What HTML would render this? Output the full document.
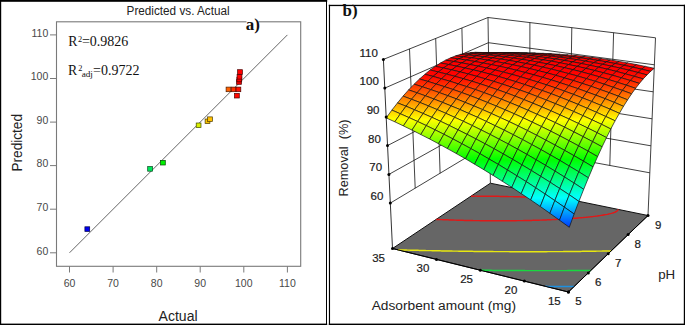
<!DOCTYPE html>
<html><head><meta charset="utf-8">
<style>
html,body{margin:0;padding:0;background:#fff;}
body{width:685px;height:325px;overflow:hidden;position:relative;}
svg{position:absolute;left:0;top:0;}
.tk{font-family:"Liberation Sans",sans-serif;font-size:10.5px;fill:#484848;}
.rt{font-family:"Liberation Sans",sans-serif;font-size:11.5px;fill:#1a1a1a;stroke:#1a1a1a;stroke-width:0.2px;}
.lab{font-family:"Liberation Sans",sans-serif;fill:#222;}
.ser{font-family:"Liberation Serif",serif;fill:#111;}
</style></head><body>
<svg width="685" height="325" viewBox="0 0 685 325">
<rect x="0" y="0" width="685" height="325" fill="#fff"/>
<!-- left panel frame -->
<rect x="0" y="0" width="327.2" height="1.8" fill="#000"/><rect x="0" y="0" width="1.2" height="325" fill="#000"/><rect x="326" y="0" width="1" height="325" fill="#000"/><rect x="0" y="323.6" width="327.2" height="1.4" fill="#000"/>
<text x="126.6" y="14.5" class="lab" font-size="12.5" textLength="103" lengthAdjust="spacingAndGlyphs">Predicted vs. Actual</text>
<rect x="56.5" y="21.8" width="244.2" height="244.5" fill="none" stroke="#7a7a7a" stroke-width="1.1"/>
<line x1="69.5" y1="266.3" x2="69.5" y2="272.5" stroke="#7a7a7a" stroke-width="1"/>
<text x="69.5" y="286.6" text-anchor="middle" class="tk">60</text>
<line x1="50" y1="252.8" x2="56.5" y2="252.8" stroke="#7a7a7a" stroke-width="1"/>
<text x="48.3" y="254.6" text-anchor="end" class="tk">60</text>
<line x1="113.1" y1="266.3" x2="113.1" y2="272.5" stroke="#7a7a7a" stroke-width="1"/>
<text x="113.1" y="286.6" text-anchor="middle" class="tk">70</text>
<line x1="50" y1="209.2" x2="56.5" y2="209.2" stroke="#7a7a7a" stroke-width="1"/>
<text x="48.3" y="211" text-anchor="end" class="tk">70</text>
<line x1="156.7" y1="266.3" x2="156.7" y2="272.5" stroke="#7a7a7a" stroke-width="1"/>
<text x="156.7" y="286.6" text-anchor="middle" class="tk">80</text>
<line x1="50" y1="165.6" x2="56.5" y2="165.6" stroke="#7a7a7a" stroke-width="1"/>
<text x="48.3" y="167.4" text-anchor="end" class="tk">80</text>
<line x1="200.2" y1="266.3" x2="200.2" y2="272.5" stroke="#7a7a7a" stroke-width="1"/>
<text x="200.2" y="286.6" text-anchor="middle" class="tk">90</text>
<line x1="50" y1="122.1" x2="56.5" y2="122.1" stroke="#7a7a7a" stroke-width="1"/>
<text x="48.3" y="123.9" text-anchor="end" class="tk">90</text>
<line x1="243.8" y1="266.3" x2="243.8" y2="272.5" stroke="#7a7a7a" stroke-width="1"/>
<text x="243.8" y="286.6" text-anchor="middle" class="tk">100</text>
<line x1="50" y1="78.5" x2="56.5" y2="78.5" stroke="#7a7a7a" stroke-width="1"/>
<text x="48.3" y="80.3" text-anchor="end" class="tk">100</text>
<line x1="287.4" y1="266.3" x2="287.4" y2="272.5" stroke="#7a7a7a" stroke-width="1"/>
<text x="287.4" y="286.6" text-anchor="middle" class="tk">110</text>
<line x1="50" y1="34.9" x2="56.5" y2="34.9" stroke="#7a7a7a" stroke-width="1"/>
<text x="48.3" y="36.7" text-anchor="end" class="tk">110</text>
<line x1="69.5" y1="252.8" x2="287.4" y2="34.9" stroke="#555" stroke-width="0.9"/>
<rect x="84.9" y="226.8" width="4.8" height="4.6" fill="#0000f0" stroke="#000048" stroke-width="0.7"/>
<rect x="147.7" y="166.6" width="4.8" height="4.6" fill="#00e85a" stroke="#00451b" stroke-width="0.7"/>
<rect x="160.5" y="160.4" width="4.8" height="4.6" fill="#00f000" stroke="#004800" stroke-width="0.7"/>
<rect x="196.2" y="123" width="4.8" height="4.6" fill="#d8f000" stroke="#404800" stroke-width="0.7"/>
<rect x="205.1" y="119" width="4.8" height="4.6" fill="#f4c000" stroke="#493900" stroke-width="0.7"/>
<rect x="207.6" y="116.9" width="4.8" height="4.6" fill="#ffc000" stroke="#4c3900" stroke-width="0.7"/>
<rect x="226.1" y="87.1" width="4.8" height="4.6" fill="#ff6000" stroke="#4c1c00" stroke-width="0.7"/>
<rect x="231.2" y="87.1" width="4.8" height="4.6" fill="#ff3000" stroke="#4c0e00" stroke-width="0.7"/>
<rect x="236" y="87.1" width="4.8" height="4.6" fill="#ff1000" stroke="#4c0400" stroke-width="0.7"/>
<rect x="234.5" y="93.4" width="4.8" height="4.6" fill="#ff0800" stroke="#4c0200" stroke-width="0.7"/>
<rect x="236.6" y="79.7" width="4.8" height="4.6" fill="#ee0000" stroke="#470000" stroke-width="0.7"/>
<rect x="236.9" y="77.2" width="4.8" height="4.6" fill="#ff0000" stroke="#4c0000" stroke-width="0.7"/>
<rect x="237.1" y="74.5" width="4.8" height="4.6" fill="#ff0000" stroke="#4c0000" stroke-width="0.7"/>
<rect x="237.6" y="69.7" width="4.8" height="4.6" fill="#ff0000" stroke="#4c0000" stroke-width="0.7"/>
<text transform="translate(21.5,171.5) rotate(-90)" class="lab" font-size="13.8" textLength="57.5" lengthAdjust="spacingAndGlyphs">Predicted</text>
<text x="158.6" y="321" class="lab" font-size="14" textLength="39" lengthAdjust="spacingAndGlyphs">Actual</text>
<text x="68.2" y="45.8" class="ser" font-size="13.8">R</text><text x="77.9" y="41.9" class="ser" font-size="8.3">2</text><text x="81.9" y="45.8" class="ser" font-size="14">=0.9826</text>
<text x="68.1" y="75.4" class="ser" font-size="13.8">R</text><text x="78.3" y="71.1" class="ser" font-size="8.3">2</text><text x="81.7" y="76.6" class="ser" font-size="9.2">adj</text><text x="93" y="75.4" class="ser" font-size="14">=0.9722</text>
<rect x="246.5" y="18" width="12" height="14" fill="#fff"/>
<text x="245.8" y="29.6" class="ser" font-size="17" font-weight="bold">a)</text>
<!-- right panel frame -->
<rect x="328.8" y="4.8" width="356.2" height="1.3" fill="#000"/><rect x="328.9" y="4.8" width="1.15" height="320.2" fill="#000"/><rect x="683.8" y="4.8" width="1.2" height="320.2" fill="#000"/><rect x="328.8" y="323.6" width="356.2" height="1.4" fill="#000"/>
<line x1="390.3" y1="203.1" x2="489.8" y2="143.4" stroke="#111" stroke-width="0.8"/>
<line x1="489.8" y1="143.4" x2="649.8" y2="172.8" stroke="#111" stroke-width="0.8"/>
<line x1="388.9" y1="174.4" x2="489.5" y2="118.2" stroke="#111" stroke-width="0.8"/>
<line x1="489.5" y1="118.2" x2="650.9" y2="145.8" stroke="#111" stroke-width="0.8"/>
<line x1="387.5" y1="145.6" x2="489.1" y2="93" stroke="#111" stroke-width="0.8"/>
<line x1="489.1" y1="93" x2="652.1" y2="118.8" stroke="#111" stroke-width="0.8"/>
<line x1="386.2" y1="116.9" x2="488.7" y2="67.9" stroke="#111" stroke-width="0.8"/>
<line x1="488.7" y1="67.9" x2="653.2" y2="91.8" stroke="#111" stroke-width="0.8"/>
<line x1="384.8" y1="88.1" x2="488.4" y2="42.7" stroke="#111" stroke-width="0.8"/>
<line x1="488.4" y1="42.7" x2="654.4" y2="64.8" stroke="#111" stroke-width="0.8"/>
<line x1="383.4" y1="59.4" x2="488" y2="17.5" stroke="#111" stroke-width="0.8"/>
<line x1="488" y1="17.5" x2="655.5" y2="37.8" stroke="#111" stroke-width="0.8"/>
<line x1="415.2" y1="188.2" x2="409.5" y2="48.9" stroke="#111" stroke-width="0.8"/>
<line x1="529.8" y1="150.8" x2="529.9" y2="22.6" stroke="#111" stroke-width="0.8"/>
<line x1="440.1" y1="173.3" x2="435.7" y2="38.5" stroke="#111" stroke-width="0.8"/>
<line x1="569.8" y1="158.1" x2="571.8" y2="27.6" stroke="#111" stroke-width="0.8"/>
<line x1="464.9" y1="158.3" x2="461.9" y2="28" stroke="#111" stroke-width="0.8"/>
<line x1="609.8" y1="165.5" x2="613.6" y2="32.7" stroke="#111" stroke-width="0.8"/>
<line x1="490.4" y1="183.2" x2="488" y2="17.5" stroke="#111" stroke-width="0.8"/>
<polygon points="392.5,248.5 568.4,292 648,215.5 490.4,183.2" fill="#666666" stroke="#111" stroke-width="1"/>
<polyline points="574.3,286.4 572.5,286.4 571.2,286.4 569.5,286.4 567.9,286.4 566.5,286.4 564.7,286.4 563.4,286.4 561.7,286.4 560,286.4 558.8,286.4 557,286.4 555.5,286.4 554,286.4 552.2,286.4 551,286.4 549.2,286.4 547.6,286.4 546.2,286.3 545.3,286.3" fill="none" stroke="#1e90e0" stroke-width="1.45" stroke-linejoin="round"/>
<polyline points="590.8,270.4 589.2,270.4 587.9,270.4 586.2,270.5 584.9,270.5 583.3,270.5 581.7,270.5 580.4,270.5 578.6,270.5 577.5,270.5 575.7,270.5 574.3,270.5 572.8,270.5 571.1,270.5 569.9,270.5 568.2,270.5 566.7,270.6 565.3,270.6 563.5,270.6 562.4,270.6 560.6,270.6 559.2,270.6 557.7,270.6 556,270.6 554.8,270.6 553.1,270.6 551.6,270.6 550.2,270.6 548.4,270.6 547.2,270.6 545.6,270.6 544,270.6 542.7,270.6 540.9,270.6 539.6,270.6 538,270.6 536.3,270.6 535.2,270.6 533.4,270.6 531.9,270.6 530.5,270.6 528.8,270.6 527.5,270.6 525.9,270.6 524.2,270.5 523,270.5 521.3,270.5 519.7,270.5 518.4,270.5 516.7,270.5 515.3,270.5 513.8,270.5 512.1,270.5 510.8,270.5 509.2,270.5 507.5,270.5 506.3,270.5 504.7,270.4 503,270.4 501.8,270.4 500.1,270.4 498.5,270.4 497.2,270.4 495.5,270.4 494,270.4 492.6,270.4 490.9,270.3 489.4,270.3 488.1,270.3 486.3,270.3 484.9,270.3 483.5,270.3 481.8,270.3 480.3,270.2 480.3,270.2" fill="none" stroke="#18d840" stroke-width="1.45" stroke-linejoin="round"/>
<polyline points="611.2,250.9 610,250.9 608.3,250.9 607.2,251 605.5,251 604.3,251 602.7,251 601.4,251.1 599.8,251.1 598.4,251.1 597,251.1 595.5,251.2 594.2,251.2 592.6,251.2 591.3,251.2 589.6,251.3 588.5,251.3 586.8,251.3 585.6,251.3 584,251.3 582.6,251.3 581.2,251.4 579.7,251.4 578.4,251.4 576.7,251.4 575.5,251.4 573.8,251.4 572.6,251.5 571,251.5 569.6,251.5 568.2,251.5 566.6,251.5 565.4,251.5 563.7,251.5 562.5,251.6 560.9,251.6 559.5,251.6 558.1,251.6 556.4,251.6 555.3,251.6 553.6,251.6 552.3,251.6 550.8,251.6 549.2,251.6 548,251.6 546.3,251.7 545.1,251.7 543.5,251.7 542,251.7 540.8,251.7 539.1,251.7 537.9,251.7 536.3,251.7 534.7,251.7 533.5,251.7 531.8,251.7 530.5,251.7 529,251.7 527.4,251.7 526.3,251.7 524.6,251.7 523.2,251.7 521.8,251.7 520.1,251.7 519,251.7 517.4,251.7 515.8,251.7 514.6,251.7 512.9,251.7 511.5,251.7 510.2,251.7 508.5,251.6 507.2,251.6 505.7,251.6 504.1,251.6 502.9,251.6 501.3,251.6 499.7,251.6 498.6,251.6 496.9,251.6 495.4,251.6 494.1,251.6 492.5,251.5 491,251.5 489.7,251.5 488.1,251.5 486.7,251.5 485.3,251.5 483.7,251.5 482.3,251.5 480.9,251.4 479.3,251.4 477.9,251.4 476.6,251.4 474.9,251.4 473.5,251.4 472.2,251.3 470.5,251.3 469.1,251.3 467.8,251.3 466.2,251.3 464.6,251.2 463.4,251.2 461.8,251.2 460.2,251.2 459,251.2 457.5,251.1 455.8,251.1 454.5,251.1 453.1,251.1 451.5,251 450,251 448.8,251 447.1,251 445.5,250.9 444.4,250.9 442.8,250.9 441.2,250.9 439.8,250.8 438.5,250.8 436.9,250.8 435.3,250.7 434.1,250.7 432.5,250.7 430.9,250.6 429.5,250.6 428.2,250.6 426.6,250.6 425,250.5 423.7,250.5 422.3,250.5 420.7,250.4 419.1,250.4 417.9,250.3 416.4,250.3 414.8,250.3 413.3,250.2 412.1,250.2 410.6,250.2 409,250.1 407.4,250.1 406.2,250 404.7,250 403.1,250 401.5,249.9 400.4,249.9 398.8,249.8 398,249.8" fill="none" stroke="#e8e810" stroke-width="1.45" stroke-linejoin="round"/>
<polyline points="471,196.2 472.5,196.2 473.5,196.2 474.9,196.1 476.3,196.1 477.4,196.2 478.9,196.2 480,196.2 481.3,196.2 482.8,196.2 483.8,196.2 485.2,196.2 486.7,196.2 487.7,196.2 489.1,196.2 490.6,196.2 491.6,196.2 493,196.3 494.4,196.3 495.6,196.3 496.9,196.3 498.3,196.3 499.6,196.4 500.7,196.4 502.1,196.4 503.6,196.4 504.7,196.5 506,196.5 507.4,196.5 508.8,196.6 510,196.6 511.2,196.6 512.6,196.6 514.1,196.7 515.3,196.7 516.4,196.8 517.9,196.8 519.3,196.8 520.7,196.9 521.9,196.9 523.1,197 524.5,197 525.9,197.1 527.3,197.1 528.7,197.2 529.9,197.2 531.1,197.3 532.4,197.3 533.8,197.4 535.2,197.5 536.6,197.5 538,197.6 539.4,197.7 540.7,197.7 541.9,197.8 543.2,197.8 544.5,197.9 545.9,198 547.3,198.1 548.6,198.1 550,198.2 551.4,198.3 552.8,198.4 554.1,198.5 555.5,198.6 556.9,198.7 558.3,198.8 559.6,198.9 561,199 562.3,199 563.7,199.2 565.1,199.3 566.6,199.4 568.1,199.5 569.6,199.6 570.9,199.7 571.3,199.8" fill="none" stroke="#e01818" stroke-width="1.45" stroke-linejoin="round"/>
<polyline points="618,209.3 618,209.9 617.7,210.4 617,211 616.3,211.5 615.3,212 614.4,212.4 613.5,212.7 612.3,213.1 611.2,213.4 610.3,213.6 609,213.9 608,214.2 607,214.4 605.7,214.6 604.5,214.8 603.5,215 602.4,215.2 601.2,215.4 599.9,215.6 598.7,215.8 597.4,216 596.2,216.1 595,216.3 593.8,216.4 592.6,216.6 591.4,216.7 590.2,216.9 589,217 587.8,217.1 586.7,217.2 585.4,217.4 584,217.5 582.7,217.6 581.4,217.7 580.3,217.8 579.1,217.9 577.8,218 576.4,218.2 575.1,218.3 574,218.3 572.8,218.4 571.3,218.5 570,218.6 568.9,218.7 567.6,218.8 566.1,218.9 564.9,219 563.8,219 562.3,219.1 561,219.2 559.9,219.3 558.4,219.3 557.1,219.4 556,219.5 554.4,219.5 553.3,219.6 552,219.6 550.5,219.7 549.4,219.8 547.9,219.8 546.7,219.9 545.4,219.9 543.9,220 542.8,220 541.2,220.1 540.1,220.1 538.6,220.2 537.4,220.2 536.1,220.2 534.7,220.3 533.4,220.3 532,220.4 530.8,220.4 529.3,220.4 528.2,220.4 526.6,220.5 525.5,220.5 524,220.5 522.8,220.6 521.3,220.6 520,220.6 518.6,220.6 517.3,220.6 516,220.7 514.5,220.7 513.3,220.7 511.7,220.7 510.7,220.7 509.1,220.7 507.9,220.7 506.5,220.8 505,220.8 503.9,220.8 502.3,220.8 501.1,220.8 499.7,220.8 498.2,220.8 497.1,220.8 495.5,220.8 494.2,220.8 492.9,220.8 491.4,220.8 490.2,220.8 488.8,220.7 487.2,220.7 486.1,220.7 484.7,220.7 483.1,220.7 482,220.7 480.6,220.7 479,220.6 477.8,220.6 476.5,220.6 475,220.6 473.6,220.6 472.4,220.5 470.9,220.5 469.4,220.5 468.2,220.5 466.9,220.4 465.4,220.4 463.8,220.4 462.7,220.3 461.3,220.3 459.8,220.2 458.3,220.2 457.1,220.2 455.8,220.1 454.4,220.1 452.9,220 451.4,220 450.2,219.9 448.9,219.9 447.4,219.8 446,219.8 444.5,219.7 443.1,219.7 441.9,219.6 440.6,219.6 439.1,219.5 437.7,219.4 436.2,219.4 436.2,219.4" fill="none" stroke="#e01818" stroke-width="1.45" stroke-linejoin="round"/>
<defs><linearGradient id="g0" gradientUnits="userSpaceOnUse" x1="490.1" y1="54.0" x2="490.1" y2="52.8"><stop offset="0.000" stop-color="#ff5700"/><stop offset="1.000" stop-color="#ff2700"/></linearGradient><linearGradient id="g1" gradientUnits="userSpaceOnUse" x1="497.8" y1="53.6" x2="497.8" y2="52.6"><stop offset="0.000" stop-color="#ff4600"/><stop offset="1.000" stop-color="#ff1900"/></linearGradient><linearGradient id="g2" gradientUnits="userSpaceOnUse" x1="485.6" y1="53.1" x2="485.6" y2="52.4"><stop offset="0.000" stop-color="#ff3600"/><stop offset="1.000" stop-color="#ff0c00"/></linearGradient><linearGradient id="g3" gradientUnits="userSpaceOnUse" x1="505.6" y1="53.2" x2="505.6" y2="52.6"><stop offset="0.000" stop-color="#ff3600"/><stop offset="1.000" stop-color="#ff0d00"/></linearGradient><linearGradient id="g4" gradientUnits="userSpaceOnUse" x1="493.4" y1="52.8" x2="493.4" y2="52.4"><stop offset="0.000" stop-color="#ff2700"/><stop offset="1.000" stop-color="#ff0100"/></linearGradient><linearGradient id="g5" gradientUnits="userSpaceOnUse" x1="513.5" y1="53.0" x2="513.5" y2="52.7"><stop offset="0.000" stop-color="#ff2800"/><stop offset="1.000" stop-color="#ff0200"/></linearGradient><linearGradient id="g6" gradientUnits="userSpaceOnUse" x1="481.0" y1="52.7" x2="481.0" y2="52.4"><stop offset="0.000" stop-color="#ff1900"/><stop offset="1.000" stop-color="#ff0000"/></linearGradient><linearGradient id="g7" gradientUnits="userSpaceOnUse" x1="501.2" y1="52.8" x2="501.2" y2="52.5"><stop offset="0.000" stop-color="#ff1900"/><stop offset="1.000" stop-color="#ff0000"/></linearGradient><linearGradient id="g8" gradientUnits="userSpaceOnUse" x1="521.4" y1="53.1" x2="521.4" y2="52.7"><stop offset="0.000" stop-color="#ff1b00"/><stop offset="1.000" stop-color="#ff0000"/></linearGradient><linearGradient id="g9" gradientUnits="userSpaceOnUse" x1="488.8" y1="52.4" x2="488.8" y2="52.7"><stop offset="0.000" stop-color="#ff0c00"/><stop offset="1.000" stop-color="#ff0000"/></linearGradient><linearGradient id="g10" gradientUnits="userSpaceOnUse" x1="509.1" y1="52.6" x2="509.1" y2="52.9"><stop offset="0.000" stop-color="#ff0d00"/><stop offset="1.000" stop-color="#ff0000"/></linearGradient><linearGradient id="g11" gradientUnits="userSpaceOnUse" x1="529.3" y1="52.9" x2="529.3" y2="53.2"><stop offset="0.000" stop-color="#ff0f00"/><stop offset="1.000" stop-color="#ff0000"/></linearGradient><linearGradient id="g12" gradientUnits="userSpaceOnUse" x1="476.4" y1="52.3" x2="476.4" y2="52.9"><stop offset="0.000" stop-color="#ff0100"/><stop offset="1.000" stop-color="#ff0000"/></linearGradient><linearGradient id="g13" gradientUnits="userSpaceOnUse" x1="496.7" y1="52.5" x2="496.7" y2="53.0"><stop offset="0.000" stop-color="#ff0100"/><stop offset="1.000" stop-color="#ff0000"/></linearGradient><linearGradient id="g14" gradientUnits="userSpaceOnUse" x1="517.0" y1="52.7" x2="517.0" y2="53.3"><stop offset="0.000" stop-color="#ff0200"/><stop offset="1.000" stop-color="#ff0000"/></linearGradient><linearGradient id="g15" gradientUnits="userSpaceOnUse" x1="537.4" y1="53.1" x2="537.4" y2="53.6"><stop offset="0.000" stop-color="#ff0500"/><stop offset="1.000" stop-color="#ff0000"/></linearGradient><linearGradient id="g95" gradientUnits="userSpaceOnUse" x1="648.4" y1="71.8" x2="647.6" y2="66.2"><stop offset="0.000" stop-color="#ff0300"/><stop offset="1.000" stop-color="#ff0000"/></linearGradient><linearGradient id="g109" gradientUnits="userSpaceOnUse" x1="635.7" y1="72.8" x2="635.1" y2="67.0"><stop offset="0.000" stop-color="#ff0300"/><stop offset="1.000" stop-color="#ff0000"/></linearGradient><linearGradient id="g117" gradientUnits="userSpaceOnUse" x1="644.6" y1="75.2" x2="644.0" y2="69.1"><stop offset="0.000" stop-color="#ff0e00"/><stop offset="1.000" stop-color="#ff0000"/></linearGradient><linearGradient id="g123" gradientUnits="userSpaceOnUse" x1="622.9" y1="74.0" x2="622.5" y2="68.0"><stop offset="0.000" stop-color="#ff0400"/><stop offset="1.000" stop-color="#ff0000"/></linearGradient><linearGradient id="g132" gradientUnits="userSpaceOnUse" x1="631.8" y1="76.5" x2="631.4" y2="70.2"><stop offset="0.000" stop-color="#ff1100"/><stop offset="1.000" stop-color="#ff0000"/></linearGradient><linearGradient id="g134" gradientUnits="userSpaceOnUse" x1="610.1" y1="75.4" x2="609.7" y2="69.2"><stop offset="0.000" stop-color="#ff0700"/><stop offset="1.000" stop-color="#ff0000"/></linearGradient><linearGradient id="g138" gradientUnits="userSpaceOnUse" x1="640.8" y1="79.1" x2="640.4" y2="72.4"><stop offset="0.000" stop-color="#ff1e00"/><stop offset="1.000" stop-color="#ff0300"/></linearGradient><linearGradient id="g143" gradientUnits="userSpaceOnUse" x1="431.5" y1="76.5" x2="431.7" y2="70.1"><stop offset="0.000" stop-color="#ff0600"/><stop offset="1.000" stop-color="#ff0000"/></linearGradient><linearGradient id="g144" gradientUnits="userSpaceOnUse" x1="619.0" y1="78.0" x2="618.6" y2="71.4"><stop offset="0.000" stop-color="#ff1400"/><stop offset="1.000" stop-color="#ff0000"/></linearGradient><linearGradient id="g146" gradientUnits="userSpaceOnUse" x1="597.2" y1="77.0" x2="596.9" y2="70.5"><stop offset="0.000" stop-color="#ff0c00"/><stop offset="1.000" stop-color="#ff0000"/></linearGradient><linearGradient id="g147" gradientUnits="userSpaceOnUse" x1="453.2" y1="76.3" x2="453.4" y2="70.0"><stop offset="0.000" stop-color="#ff0300"/><stop offset="1.000" stop-color="#ff0000"/></linearGradient><linearGradient id="g149" gradientUnits="userSpaceOnUse" x1="575.4" y1="76.1" x2="575.1" y2="69.7"><stop offset="0.000" stop-color="#ff0500"/><stop offset="1.000" stop-color="#ff0000"/></linearGradient><linearGradient id="g152" gradientUnits="userSpaceOnUse" x1="627.9" y1="80.7" x2="627.6" y2="73.7"><stop offset="0.000" stop-color="#ff2300"/><stop offset="1.000" stop-color="#ff0400"/></linearGradient><linearGradient id="g153" gradientUnits="userSpaceOnUse" x1="475.0" y1="76.4" x2="475.1" y2="69.9"><stop offset="0.000" stop-color="#ff0200"/><stop offset="1.000" stop-color="#ff0000"/></linearGradient><linearGradient id="g154" gradientUnits="userSpaceOnUse" x1="439.8" y1="78.8" x2="439.9" y2="72.1"><stop offset="0.000" stop-color="#ff1000"/><stop offset="1.000" stop-color="#ff0000"/></linearGradient><linearGradient id="g155" gradientUnits="userSpaceOnUse" x1="606.1" y1="79.6" x2="605.8" y2="72.7"><stop offset="0.000" stop-color="#ff1a00"/><stop offset="1.000" stop-color="#ff0000"/></linearGradient><linearGradient id="g156" gradientUnits="userSpaceOnUse" x1="496.8" y1="76.6" x2="496.8" y2="70.1"><stop offset="0.000" stop-color="#ff0200"/><stop offset="1.000" stop-color="#ff0000"/></linearGradient><linearGradient id="g157" gradientUnits="userSpaceOnUse" x1="584.2" y1="78.7" x2="583.9" y2="71.9"><stop offset="0.000" stop-color="#ff1200"/><stop offset="1.000" stop-color="#ff0000"/></linearGradient><linearGradient id="g158" gradientUnits="userSpaceOnUse" x1="637.0" y1="83.5" x2="636.6" y2="76.2"><stop offset="0.000" stop-color="#ff3300"/><stop offset="1.000" stop-color="#ff1100"/></linearGradient><linearGradient id="g159" gradientUnits="userSpaceOnUse" x1="518.6" y1="76.9" x2="518.6" y2="70.3"><stop offset="0.000" stop-color="#ff0400"/><stop offset="1.000" stop-color="#ff0000"/></linearGradient><linearGradient id="g160" gradientUnits="userSpaceOnUse" x1="562.3" y1="78.0" x2="562.1" y2="71.3"><stop offset="0.000" stop-color="#ff0c00"/><stop offset="1.000" stop-color="#ff0000"/></linearGradient><linearGradient id="g161" gradientUnits="userSpaceOnUse" x1="426.2" y1="81.4" x2="426.4" y2="74.3"><stop offset="0.000" stop-color="#ff1f00"/><stop offset="1.000" stop-color="#ff0000"/></linearGradient><linearGradient id="g162" gradientUnits="userSpaceOnUse" x1="461.6" y1="78.7" x2="461.7" y2="72.0"><stop offset="0.000" stop-color="#ff0e00"/><stop offset="1.000" stop-color="#ff0000"/></linearGradient><linearGradient id="g163" gradientUnits="userSpaceOnUse" x1="540.4" y1="77.4" x2="540.3" y2="70.7"><stop offset="0.000" stop-color="#ff0700"/><stop offset="1.000" stop-color="#ff0000"/></linearGradient><linearGradient id="g164" gradientUnits="userSpaceOnUse" x1="615.0" y1="82.4" x2="614.7" y2="75.2"><stop offset="0.000" stop-color="#ff2900"/><stop offset="1.000" stop-color="#ff0700"/></linearGradient><linearGradient id="g165" gradientUnits="userSpaceOnUse" x1="483.4" y1="78.8" x2="483.5" y2="72.0"><stop offset="0.000" stop-color="#ff0e00"/><stop offset="1.000" stop-color="#ff0000"/></linearGradient><linearGradient id="g166" gradientUnits="userSpaceOnUse" x1="448.1" y1="81.3" x2="448.2" y2="74.2"><stop offset="0.000" stop-color="#ff1c00"/><stop offset="1.000" stop-color="#ff0000"/></linearGradient><linearGradient id="g167" gradientUnits="userSpaceOnUse" x1="593.0" y1="81.5" x2="592.8" y2="74.3"><stop offset="0.000" stop-color="#ff2100"/><stop offset="1.000" stop-color="#ff0000"/></linearGradient><linearGradient id="g168" gradientUnits="userSpaceOnUse" x1="505.3" y1="79.1" x2="505.3" y2="72.2"><stop offset="0.000" stop-color="#ff0f00"/><stop offset="1.000" stop-color="#ff0000"/></linearGradient><linearGradient id="g169" gradientUnits="userSpaceOnUse" x1="571.1" y1="80.6" x2="570.9" y2="73.6"><stop offset="0.000" stop-color="#ff1a00"/><stop offset="1.000" stop-color="#ff0000"/></linearGradient><linearGradient id="g170" gradientUnits="userSpaceOnUse" x1="527.2" y1="79.4" x2="527.2" y2="72.5"><stop offset="0.000" stop-color="#ff1100"/><stop offset="1.000" stop-color="#ff0000"/></linearGradient><linearGradient id="g171" gradientUnits="userSpaceOnUse" x1="549.1" y1="80.0" x2="549.0" y2="73.0"><stop offset="0.000" stop-color="#ff1500"/><stop offset="1.000" stop-color="#ff0000"/></linearGradient><linearGradient id="g172" gradientUnits="userSpaceOnUse" x1="624.0" y1="85.4" x2="623.7" y2="77.7"><stop offset="0.000" stop-color="#ff3900"/><stop offset="1.000" stop-color="#ff1400"/></linearGradient><linearGradient id="g173" gradientUnits="userSpaceOnUse" x1="470.0" y1="81.3" x2="470.1" y2="74.1"><stop offset="0.000" stop-color="#ff1b00"/><stop offset="1.000" stop-color="#ff0000"/></linearGradient><linearGradient id="g174" gradientUnits="userSpaceOnUse" x1="434.5" y1="84.0" x2="434.7" y2="76.5"><stop offset="0.000" stop-color="#ff2b00"/><stop offset="1.000" stop-color="#ff0600"/></linearGradient><linearGradient id="g175" gradientUnits="userSpaceOnUse" x1="602.0" y1="84.3" x2="601.7" y2="76.8"><stop offset="0.000" stop-color="#ff3100"/><stop offset="1.000" stop-color="#ff0c00"/></linearGradient><linearGradient id="g176" gradientUnits="userSpaceOnUse" x1="491.9" y1="81.4" x2="492.0" y2="74.2"><stop offset="0.000" stop-color="#ff1b00"/><stop offset="1.000" stop-color="#ff0000"/></linearGradient><linearGradient id="g177" gradientUnits="userSpaceOnUse" x1="420.9" y1="86.8" x2="421.0" y2="79.0"><stop offset="0.000" stop-color="#ff3c00"/><stop offset="1.000" stop-color="#ff1300"/></linearGradient><linearGradient id="g178" gradientUnits="userSpaceOnUse" x1="579.9" y1="83.5" x2="579.7" y2="76.0"><stop offset="0.000" stop-color="#ff2900"/><stop offset="1.000" stop-color="#ff0500"/></linearGradient><linearGradient id="g179" gradientUnits="userSpaceOnUse" x1="513.9" y1="81.7" x2="513.9" y2="74.4"><stop offset="0.000" stop-color="#ff1c00"/><stop offset="1.000" stop-color="#ff0000"/></linearGradient><linearGradient id="g180" gradientUnits="userSpaceOnUse" x1="456.5" y1="83.9" x2="456.6" y2="76.4"><stop offset="0.000" stop-color="#ff2900"/><stop offset="1.000" stop-color="#ff0300"/></linearGradient><linearGradient id="g181" gradientUnits="userSpaceOnUse" x1="633.1" y1="88.5" x2="632.8" y2="80.4"><stop offset="0.000" stop-color="#ff4b00"/><stop offset="1.000" stop-color="#ff2300"/></linearGradient><linearGradient id="g182" gradientUnits="userSpaceOnUse" x1="557.9" y1="82.7" x2="557.8" y2="75.3"><stop offset="0.000" stop-color="#ff2400"/><stop offset="1.000" stop-color="#ff0000"/></linearGradient><linearGradient id="g183" gradientUnits="userSpaceOnUse" x1="535.9" y1="82.1" x2="535.8" y2="74.8"><stop offset="0.000" stop-color="#ff1f00"/><stop offset="1.000" stop-color="#ff0000"/></linearGradient><linearGradient id="g184" gradientUnits="userSpaceOnUse" x1="478.5" y1="83.9" x2="478.5" y2="76.4"><stop offset="0.000" stop-color="#ff2800"/><stop offset="1.000" stop-color="#ff0200"/></linearGradient><linearGradient id="g185" gradientUnits="userSpaceOnUse" x1="611.0" y1="87.4" x2="610.7" y2="79.4"><stop offset="0.000" stop-color="#ff4200"/><stop offset="1.000" stop-color="#ff1a00"/></linearGradient><linearGradient id="g186" gradientUnits="userSpaceOnUse" x1="442.9" y1="86.7" x2="443.0" y2="78.8"><stop offset="0.000" stop-color="#ff3900"/><stop offset="1.000" stop-color="#ff1000"/></linearGradient><linearGradient id="g187" gradientUnits="userSpaceOnUse" x1="500.5" y1="84.2" x2="500.5" y2="76.6"><stop offset="0.000" stop-color="#ff2900"/><stop offset="1.000" stop-color="#ff0200"/></linearGradient><linearGradient id="g188" gradientUnits="userSpaceOnUse" x1="588.8" y1="86.4" x2="588.6" y2="78.6"><stop offset="0.000" stop-color="#ff3a00"/><stop offset="1.000" stop-color="#ff1200"/></linearGradient><linearGradient id="g189" gradientUnits="userSpaceOnUse" x1="522.6" y1="84.5" x2="522.5" y2="76.8"><stop offset="0.000" stop-color="#ff2b00"/><stop offset="1.000" stop-color="#ff0400"/></linearGradient><linearGradient id="g190" gradientUnits="userSpaceOnUse" x1="566.7" y1="85.6" x2="566.6" y2="77.9"><stop offset="0.000" stop-color="#ff3400"/><stop offset="1.000" stop-color="#ff0c00"/></linearGradient><linearGradient id="g191" gradientUnits="userSpaceOnUse" x1="544.6" y1="85.0" x2="544.5" y2="77.3"><stop offset="0.000" stop-color="#ff2f00"/><stop offset="1.000" stop-color="#ff0700"/></linearGradient><linearGradient id="g192" gradientUnits="userSpaceOnUse" x1="429.2" y1="89.6" x2="429.4" y2="81.5"><stop offset="0.000" stop-color="#ff4b00"/><stop offset="1.000" stop-color="#ff1f00"/></linearGradient><linearGradient id="g193" gradientUnits="userSpaceOnUse" x1="464.9" y1="86.6" x2="465.0" y2="78.8"><stop offset="0.000" stop-color="#ff3800"/><stop offset="1.000" stop-color="#ff0e00"/></linearGradient><linearGradient id="g194" gradientUnits="userSpaceOnUse" x1="620.0" y1="90.6" x2="619.8" y2="82.2"><stop offset="0.000" stop-color="#ff5400"/><stop offset="1.000" stop-color="#ff2900"/></linearGradient><linearGradient id="g195" gradientUnits="userSpaceOnUse" x1="487.0" y1="86.8" x2="487.1" y2="78.8"><stop offset="0.000" stop-color="#ff3700"/><stop offset="1.000" stop-color="#ff0e00"/></linearGradient><linearGradient id="g196" gradientUnits="userSpaceOnUse" x1="415.4" y1="92.8" x2="415.6" y2="84.2"><stop offset="0.000" stop-color="#ff5e00"/><stop offset="1.000" stop-color="#ff2f00"/></linearGradient><linearGradient id="g197" gradientUnits="userSpaceOnUse" x1="597.8" y1="89.6" x2="597.6" y2="81.3"><stop offset="0.000" stop-color="#ff4c00"/><stop offset="1.000" stop-color="#ff2100"/></linearGradient><linearGradient id="g198" gradientUnits="userSpaceOnUse" x1="451.3" y1="89.5" x2="451.4" y2="81.3"><stop offset="0.000" stop-color="#ff4800"/><stop offset="1.000" stop-color="#ff1c00"/></linearGradient><linearGradient id="g199" gradientUnits="userSpaceOnUse" x1="509.2" y1="87.0" x2="509.1" y2="79.0"><stop offset="0.000" stop-color="#ff3900"/><stop offset="1.000" stop-color="#ff0f00"/></linearGradient><linearGradient id="g200" gradientUnits="userSpaceOnUse" x1="575.6" y1="88.7" x2="575.5" y2="80.5"><stop offset="0.000" stop-color="#ff4500"/><stop offset="1.000" stop-color="#ff1a00"/></linearGradient><linearGradient id="g201" gradientUnits="userSpaceOnUse" x1="531.3" y1="87.5" x2="531.2" y2="79.4"><stop offset="0.000" stop-color="#ff3b00"/><stop offset="1.000" stop-color="#ff1100"/></linearGradient><linearGradient id="g202" gradientUnits="userSpaceOnUse" x1="553.4" y1="88.0" x2="553.3" y2="79.9"><stop offset="0.000" stop-color="#ff3f00"/><stop offset="1.000" stop-color="#ff1500"/></linearGradient><linearGradient id="g203" gradientUnits="userSpaceOnUse" x1="629.1" y1="93.9" x2="628.9" y2="85.2"><stop offset="0.000" stop-color="#ff6800"/><stop offset="1.000" stop-color="#ff3900"/></linearGradient><linearGradient id="g204" gradientUnits="userSpaceOnUse" x1="473.5" y1="89.6" x2="473.5" y2="81.3"><stop offset="0.000" stop-color="#ff4700"/><stop offset="1.000" stop-color="#ff1b00"/></linearGradient><linearGradient id="g205" gradientUnits="userSpaceOnUse" x1="437.6" y1="92.6" x2="437.8" y2="84.0"><stop offset="0.000" stop-color="#ff5b00"/><stop offset="1.000" stop-color="#ff2b00"/></linearGradient><linearGradient id="g206" gradientUnits="userSpaceOnUse" x1="606.9" y1="92.8" x2="606.6" y2="84.2"><stop offset="0.000" stop-color="#ff5f00"/><stop offset="1.000" stop-color="#ff3100"/></linearGradient><linearGradient id="g207" gradientUnits="userSpaceOnUse" x1="495.6" y1="89.7" x2="495.7" y2="81.4"><stop offset="0.000" stop-color="#ff4800"/><stop offset="1.000" stop-color="#ff1b00"/></linearGradient><linearGradient id="g208" gradientUnits="userSpaceOnUse" x1="584.6" y1="91.9" x2="584.4" y2="83.4"><stop offset="0.000" stop-color="#ff5800"/><stop offset="1.000" stop-color="#ff2900"/></linearGradient><linearGradient id="g209" gradientUnits="userSpaceOnUse" x1="423.8" y1="95.8" x2="424.0" y2="86.9"><stop offset="0.000" stop-color="#ff6f00"/><stop offset="1.000" stop-color="#ff3c00"/></linearGradient><linearGradient id="g210" gradientUnits="userSpaceOnUse" x1="517.9" y1="90.1" x2="517.8" y2="81.7"><stop offset="0.000" stop-color="#ff4a00"/><stop offset="1.000" stop-color="#ff1c00"/></linearGradient><linearGradient id="g211" gradientUnits="userSpaceOnUse" x1="459.8" y1="92.5" x2="459.9" y2="83.9"><stop offset="0.000" stop-color="#ff5900"/><stop offset="1.000" stop-color="#ff2900"/></linearGradient><linearGradient id="g212" gradientUnits="userSpaceOnUse" x1="562.3" y1="91.2" x2="562.2" y2="82.7"><stop offset="0.000" stop-color="#ff5100"/><stop offset="1.000" stop-color="#ff2400"/></linearGradient><linearGradient id="g213" gradientUnits="userSpaceOnUse" x1="540.1" y1="90.5" x2="540.0" y2="82.1"><stop offset="0.000" stop-color="#ff4d00"/><stop offset="1.000" stop-color="#ff1f00"/></linearGradient><linearGradient id="g214" gradientUnits="userSpaceOnUse" x1="410.0" y1="99.2" x2="410.2" y2="90.0"><stop offset="0.000" stop-color="#ff8500"/><stop offset="1.000" stop-color="#ff4f00"/></linearGradient><linearGradient id="g215" gradientUnits="userSpaceOnUse" x1="616.0" y1="96.3" x2="615.7" y2="87.2"><stop offset="0.000" stop-color="#ff7400"/><stop offset="1.000" stop-color="#ff4200"/></linearGradient><linearGradient id="g216" gradientUnits="userSpaceOnUse" x1="482.1" y1="92.6" x2="482.1" y2="84.0"><stop offset="0.000" stop-color="#ff5800"/><stop offset="1.000" stop-color="#ff2800"/></linearGradient><linearGradient id="g217" gradientUnits="userSpaceOnUse" x1="446.1" y1="95.7" x2="446.2" y2="86.7"><stop offset="0.000" stop-color="#ff6c00"/><stop offset="1.000" stop-color="#ff3900"/></linearGradient><linearGradient id="g218" gradientUnits="userSpaceOnUse" x1="593.6" y1="95.3" x2="593.4" y2="86.3"><stop offset="0.000" stop-color="#ff6b00"/><stop offset="1.000" stop-color="#ff3a00"/></linearGradient><linearGradient id="g219" gradientUnits="userSpaceOnUse" x1="504.3" y1="92.9" x2="504.3" y2="84.1"><stop offset="0.000" stop-color="#ff5900"/><stop offset="1.000" stop-color="#ff2900"/></linearGradient><linearGradient id="g220" gradientUnits="userSpaceOnUse" x1="571.3" y1="94.5" x2="571.1" y2="85.6"><stop offset="0.000" stop-color="#ff6500"/><stop offset="1.000" stop-color="#ff3400"/></linearGradient><linearGradient id="g221" gradientUnits="userSpaceOnUse" x1="526.6" y1="93.3" x2="526.6" y2="84.5"><stop offset="0.000" stop-color="#ff5c00"/><stop offset="1.000" stop-color="#ff2b00"/></linearGradient><linearGradient id="g222" gradientUnits="userSpaceOnUse" x1="548.9" y1="93.8" x2="548.8" y2="84.9"><stop offset="0.000" stop-color="#ff6000"/><stop offset="1.000" stop-color="#ff2f00"/></linearGradient><linearGradient id="g223" gradientUnits="userSpaceOnUse" x1="432.3" y1="99.0" x2="432.4" y2="89.7"><stop offset="0.000" stop-color="#ff8100"/><stop offset="1.000" stop-color="#ff4b00"/></linearGradient><linearGradient id="g224" gradientUnits="userSpaceOnUse" x1="625.1" y1="99.9" x2="624.9" y2="90.4"><stop offset="0.000" stop-color="#ff8900"/><stop offset="1.000" stop-color="#ff5400"/></linearGradient><linearGradient id="g225" gradientUnits="userSpaceOnUse" x1="468.4" y1="95.7" x2="468.5" y2="86.7"><stop offset="0.000" stop-color="#ff6b00"/><stop offset="1.000" stop-color="#ff3800"/></linearGradient><linearGradient id="g226" gradientUnits="userSpaceOnUse" x1="602.7" y1="98.8" x2="602.5" y2="89.4"><stop offset="0.000" stop-color="#ff8100"/><stop offset="1.000" stop-color="#ff4c00"/></linearGradient><linearGradient id="g227" gradientUnits="userSpaceOnUse" x1="490.7" y1="95.9" x2="490.8" y2="86.8"><stop offset="0.000" stop-color="#ff6b00"/><stop offset="1.000" stop-color="#ff3700"/></linearGradient><linearGradient id="g228" gradientUnits="userSpaceOnUse" x1="418.4" y1="102.5" x2="418.6" y2="92.8"><stop offset="0.000" stop-color="#ff9700"/><stop offset="1.000" stop-color="#ff5e00"/></linearGradient><linearGradient id="g229" gradientUnits="userSpaceOnUse" x1="454.6" y1="98.9" x2="454.8" y2="89.6"><stop offset="0.000" stop-color="#ff7f00"/><stop offset="1.000" stop-color="#ff4800"/></linearGradient><linearGradient id="g230" gradientUnits="userSpaceOnUse" x1="580.3" y1="97.9" x2="580.1" y2="88.6"><stop offset="0.000" stop-color="#ff7900"/><stop offset="1.000" stop-color="#ff4500"/></linearGradient><linearGradient id="g231" gradientUnits="userSpaceOnUse" x1="513.1" y1="96.2" x2="513.1" y2="87.0"><stop offset="0.000" stop-color="#ff6c00"/><stop offset="1.000" stop-color="#ff3900"/></linearGradient><linearGradient id="g232" gradientUnits="userSpaceOnUse" x1="557.8" y1="97.2" x2="557.7" y2="87.9"><stop offset="0.000" stop-color="#ff7400"/><stop offset="1.000" stop-color="#ff3f00"/></linearGradient><linearGradient id="g233" gradientUnits="userSpaceOnUse" x1="535.5" y1="96.6" x2="535.4" y2="87.4"><stop offset="0.000" stop-color="#ff6f00"/><stop offset="1.000" stop-color="#ff3b00"/></linearGradient><linearGradient id="g234" gradientUnits="userSpaceOnUse" x1="404.4" y1="106.2" x2="404.6" y2="96.2"><stop offset="0.000" stop-color="#ffaf00"/><stop offset="1.000" stop-color="#ff7300"/></linearGradient><linearGradient id="g235" gradientUnits="userSpaceOnUse" x1="477.0" y1="99.0" x2="477.1" y2="89.6"><stop offset="0.000" stop-color="#ff7e00"/><stop offset="1.000" stop-color="#ff4700"/></linearGradient><linearGradient id="g236" gradientUnits="userSpaceOnUse" x1="440.8" y1="102.4" x2="441.0" y2="92.6"><stop offset="0.000" stop-color="#ff9400"/><stop offset="1.000" stop-color="#ff5b00"/></linearGradient><linearGradient id="g237" gradientUnits="userSpaceOnUse" x1="611.8" y1="102.5" x2="611.6" y2="92.7"><stop offset="0.000" stop-color="#ff9700"/><stop offset="1.000" stop-color="#ff5f00"/></linearGradient><linearGradient id="g238" gradientUnits="userSpaceOnUse" x1="499.4" y1="99.2" x2="499.5" y2="89.8"><stop offset="0.000" stop-color="#ff7e00"/><stop offset="1.000" stop-color="#ff4800"/></linearGradient><linearGradient id="g239" gradientUnits="userSpaceOnUse" x1="589.3" y1="101.6" x2="589.2" y2="91.8"><stop offset="0.000" stop-color="#ff8f00"/><stop offset="1.000" stop-color="#ff5800"/></linearGradient><linearGradient id="g240" gradientUnits="userSpaceOnUse" x1="426.9" y1="106.0" x2="427.1" y2="95.9"><stop offset="0.000" stop-color="#ffab00"/><stop offset="1.000" stop-color="#ff6f00"/></linearGradient><linearGradient id="g241" gradientUnits="userSpaceOnUse" x1="521.9" y1="99.6" x2="521.9" y2="90.1"><stop offset="0.000" stop-color="#ff8000"/><stop offset="1.000" stop-color="#ff4a00"/></linearGradient><linearGradient id="g242" gradientUnits="userSpaceOnUse" x1="566.8" y1="100.8" x2="566.7" y2="91.1"><stop offset="0.000" stop-color="#ff8900"/><stop offset="1.000" stop-color="#ff5100"/></linearGradient><linearGradient id="g243" gradientUnits="userSpaceOnUse" x1="463.3" y1="102.4" x2="463.4" y2="92.6"><stop offset="0.000" stop-color="#ff9200"/><stop offset="1.000" stop-color="#ff5900"/></linearGradient><linearGradient id="g244" gradientUnits="userSpaceOnUse" x1="544.3" y1="100.1" x2="544.3" y2="90.5"><stop offset="0.000" stop-color="#ff8400"/><stop offset="1.000" stop-color="#ff4d00"/></linearGradient><linearGradient id="g245" gradientUnits="userSpaceOnUse" x1="621.1" y1="106.3" x2="620.8" y2="96.2"><stop offset="0.000" stop-color="#ffaf00"/><stop offset="1.000" stop-color="#ff7400"/></linearGradient><linearGradient id="g246" gradientUnits="userSpaceOnUse" x1="412.9" y1="109.8" x2="413.1" y2="99.3"><stop offset="0.000" stop-color="#ffc400"/><stop offset="1.000" stop-color="#ff8500"/></linearGradient><linearGradient id="g247" gradientUnits="userSpaceOnUse" x1="485.7" y1="102.5" x2="485.8" y2="92.6"><stop offset="0.000" stop-color="#ff9200"/><stop offset="1.000" stop-color="#ff5800"/></linearGradient><linearGradient id="g248" gradientUnits="userSpaceOnUse" x1="449.4" y1="105.9" x2="449.5" y2="95.7"><stop offset="0.000" stop-color="#ffa800"/><stop offset="1.000" stop-color="#ff6c00"/></linearGradient><linearGradient id="g249" gradientUnits="userSpaceOnUse" x1="598.5" y1="105.3" x2="598.3" y2="95.2"><stop offset="0.000" stop-color="#ffa700"/><stop offset="1.000" stop-color="#ff6b00"/></linearGradient><linearGradient id="g250" gradientUnits="userSpaceOnUse" x1="398.8" y1="113.7" x2="399.1" y2="102.9"><stop offset="0.000" stop-color="#ffde00"/><stop offset="1.000" stop-color="#ff9c00"/></linearGradient><linearGradient id="g251" gradientUnits="userSpaceOnUse" x1="508.2" y1="102.8" x2="508.2" y2="92.9"><stop offset="0.000" stop-color="#ff9300"/><stop offset="1.000" stop-color="#ff5900"/></linearGradient><linearGradient id="g252" gradientUnits="userSpaceOnUse" x1="575.9" y1="104.5" x2="575.7" y2="94.4"><stop offset="0.000" stop-color="#ffa000"/><stop offset="1.000" stop-color="#ff6500"/></linearGradient><linearGradient id="g253" gradientUnits="userSpaceOnUse" x1="530.8" y1="103.2" x2="530.7" y2="93.2"><stop offset="0.000" stop-color="#ff9600"/><stop offset="1.000" stop-color="#ff5c00"/></linearGradient><linearGradient id="g254" gradientUnits="userSpaceOnUse" x1="553.3" y1="103.8" x2="553.2" y2="93.8"><stop offset="0.000" stop-color="#ff9a00"/><stop offset="1.000" stop-color="#ff6000"/></linearGradient><linearGradient id="g255" gradientUnits="userSpaceOnUse" x1="435.5" y1="109.6" x2="435.6" y2="99.1"><stop offset="0.000" stop-color="#ffc000"/><stop offset="1.000" stop-color="#ff8100"/></linearGradient><linearGradient id="g256" gradientUnits="userSpaceOnUse" x1="471.9" y1="105.9" x2="472.0" y2="95.7"><stop offset="0.000" stop-color="#ffa700"/><stop offset="1.000" stop-color="#ff6b00"/></linearGradient><linearGradient id="g257" gradientUnits="userSpaceOnUse" x1="607.6" y1="109.3" x2="607.5" y2="98.7"><stop offset="0.000" stop-color="#ffbf00"/><stop offset="1.000" stop-color="#ff8100"/></linearGradient><linearGradient id="g258" gradientUnits="userSpaceOnUse" x1="494.5" y1="106.1" x2="494.5" y2="95.9"><stop offset="0.000" stop-color="#ffa800"/><stop offset="1.000" stop-color="#ff6b00"/></linearGradient><linearGradient id="g259" gradientUnits="userSpaceOnUse" x1="421.5" y1="113.5" x2="421.6" y2="102.6"><stop offset="0.000" stop-color="#ffda00"/><stop offset="1.000" stop-color="#ff9700"/></linearGradient><linearGradient id="g260" gradientUnits="userSpaceOnUse" x1="585.0" y1="108.3" x2="584.8" y2="97.9"><stop offset="0.000" stop-color="#ffb700"/><stop offset="1.000" stop-color="#ff7900"/></linearGradient><linearGradient id="g261" gradientUnits="userSpaceOnUse" x1="458.1" y1="109.5" x2="458.2" y2="99.0"><stop offset="0.000" stop-color="#ffbe00"/><stop offset="1.000" stop-color="#ff7f00"/></linearGradient><linearGradient id="g262" gradientUnits="userSpaceOnUse" x1="517.1" y1="106.4" x2="517.1" y2="96.1"><stop offset="0.000" stop-color="#ffa900"/><stop offset="1.000" stop-color="#ff6c00"/></linearGradient><linearGradient id="g263" gradientUnits="userSpaceOnUse" x1="562.3" y1="107.6" x2="562.2" y2="97.1"><stop offset="0.000" stop-color="#ffb100"/><stop offset="1.000" stop-color="#ff7400"/></linearGradient><linearGradient id="g264" gradientUnits="userSpaceOnUse" x1="539.7" y1="106.9" x2="539.6" y2="96.6"><stop offset="0.000" stop-color="#ffad00"/><stop offset="1.000" stop-color="#ff6f00"/></linearGradient><linearGradient id="g265" gradientUnits="userSpaceOnUse" x1="407.4" y1="117.5" x2="407.6" y2="106.3"><stop offset="0.000" stop-color="#fff500"/><stop offset="1.000" stop-color="#ffaf00"/></linearGradient><linearGradient id="g266" gradientUnits="userSpaceOnUse" x1="616.9" y1="113.4" x2="616.7" y2="102.4"><stop offset="0.000" stop-color="#ffd900"/><stop offset="1.000" stop-color="#ff9700"/></linearGradient><linearGradient id="g267" gradientUnits="userSpaceOnUse" x1="480.7" y1="109.6" x2="480.7" y2="99.0"><stop offset="0.000" stop-color="#ffbe00"/><stop offset="1.000" stop-color="#ff7e00"/></linearGradient><linearGradient id="g268" gradientUnits="userSpaceOnUse" x1="393.2" y1="121.8" x2="393.4" y2="110.2"><stop offset="0.000" stop-color="#edff00"/><stop offset="0.249" stop-color="#ffff00"/><stop offset="1.000" stop-color="#ffc900"/></linearGradient><linearGradient id="g269" gradientUnits="userSpaceOnUse" x1="444.1" y1="113.3" x2="444.2" y2="102.4"><stop offset="0.000" stop-color="#ffd700"/><stop offset="1.000" stop-color="#ff9400"/></linearGradient><linearGradient id="g270" gradientUnits="userSpaceOnUse" x1="594.2" y1="112.4" x2="594.0" y2="101.5"><stop offset="0.000" stop-color="#ffd100"/><stop offset="1.000" stop-color="#ff8f00"/></linearGradient><linearGradient id="g271" gradientUnits="userSpaceOnUse" x1="503.3" y1="109.9" x2="503.4" y2="99.2"><stop offset="0.000" stop-color="#ffbf00"/><stop offset="1.000" stop-color="#ff7e00"/></linearGradient><linearGradient id="g272" gradientUnits="userSpaceOnUse" x1="571.4" y1="111.5" x2="571.3" y2="100.7"><stop offset="0.000" stop-color="#ffca00"/><stop offset="1.000" stop-color="#ff8900"/></linearGradient><linearGradient id="g273" gradientUnits="userSpaceOnUse" x1="430.1" y1="117.3" x2="430.2" y2="106.0"><stop offset="0.000" stop-color="#fff100"/><stop offset="1.000" stop-color="#ffab00"/></linearGradient><linearGradient id="g274" gradientUnits="userSpaceOnUse" x1="526.0" y1="110.3" x2="526.0" y2="99.6"><stop offset="0.000" stop-color="#ffc100"/><stop offset="1.000" stop-color="#ff8000"/></linearGradient><linearGradient id="g275" gradientUnits="userSpaceOnUse" x1="548.7" y1="110.8" x2="548.6" y2="100.1"><stop offset="0.000" stop-color="#ffc500"/><stop offset="1.000" stop-color="#ff8400"/></linearGradient><linearGradient id="g276" gradientUnits="userSpaceOnUse" x1="466.8" y1="113.4" x2="466.9" y2="102.4"><stop offset="0.000" stop-color="#ffd500"/><stop offset="1.000" stop-color="#ff9200"/></linearGradient><linearGradient id="g277" gradientUnits="userSpaceOnUse" x1="415.9" y1="121.5" x2="416.1" y2="109.8"><stop offset="0.000" stop-color="#f2ff00"/><stop offset="0.185" stop-color="#ffff00"/><stop offset="1.000" stop-color="#ffc400"/></linearGradient><linearGradient id="g278" gradientUnits="userSpaceOnUse" x1="603.4" y1="116.6" x2="603.2" y2="105.3"><stop offset="0.000" stop-color="#ffeb00"/><stop offset="1.000" stop-color="#ffa700"/></linearGradient><linearGradient id="g279" gradientUnits="userSpaceOnUse" x1="489.5" y1="113.5" x2="489.5" y2="102.5"><stop offset="0.000" stop-color="#ffd500"/><stop offset="1.000" stop-color="#ff9200"/></linearGradient><linearGradient id="g280" gradientUnits="userSpaceOnUse" x1="452.8" y1="117.3" x2="452.9" y2="105.9"><stop offset="0.000" stop-color="#ffef00"/><stop offset="1.000" stop-color="#ffa800"/></linearGradient><linearGradient id="g281" gradientUnits="userSpaceOnUse" x1="401.8" y1="125.9" x2="402.0" y2="113.8"><stop offset="0.000" stop-color="#d4ff00"/><stop offset="0.564" stop-color="#ffff00"/><stop offset="1.000" stop-color="#ffde00"/></linearGradient><linearGradient id="g282" gradientUnits="userSpaceOnUse" x1="580.6" y1="115.7" x2="580.4" y2="104.4"><stop offset="0.000" stop-color="#ffe400"/><stop offset="1.000" stop-color="#ffa000"/></linearGradient><linearGradient id="g283" gradientUnits="userSpaceOnUse" x1="512.2" y1="113.8" x2="512.2" y2="102.8"><stop offset="0.000" stop-color="#ffd700"/><stop offset="1.000" stop-color="#ff9300"/></linearGradient><linearGradient id="g284" gradientUnits="userSpaceOnUse" x1="557.8" y1="114.9" x2="557.7" y2="103.7"><stop offset="0.000" stop-color="#ffde00"/><stop offset="1.000" stop-color="#ff9a00"/></linearGradient><linearGradient id="g285" gradientUnits="userSpaceOnUse" x1="535.0" y1="114.3" x2="535.0" y2="103.2"><stop offset="0.000" stop-color="#ffda00"/><stop offset="1.000" stop-color="#ff9600"/></linearGradient><linearGradient id="g286" gradientUnits="userSpaceOnUse" x1="438.7" y1="121.3" x2="438.9" y2="109.6"><stop offset="0.000" stop-color="#f5ff00"/><stop offset="0.141" stop-color="#ffff00"/><stop offset="1.000" stop-color="#ffc000"/></linearGradient><linearGradient id="g287" gradientUnits="userSpaceOnUse" x1="475.6" y1="117.3" x2="475.6" y2="105.9"><stop offset="0.000" stop-color="#ffee00"/><stop offset="1.000" stop-color="#ffa700"/></linearGradient><linearGradient id="g288" gradientUnits="userSpaceOnUse" x1="612.7" y1="120.9" x2="612.5" y2="109.2"><stop offset="0.000" stop-color="#f7ff00"/><stop offset="0.111" stop-color="#ffff00"/><stop offset="1.000" stop-color="#ffbf00"/></linearGradient><linearGradient id="g289" gradientUnits="userSpaceOnUse" x1="498.4" y1="117.6" x2="498.4" y2="106.1"><stop offset="0.000" stop-color="#ffee00"/><stop offset="1.000" stop-color="#ffa800"/></linearGradient><linearGradient id="g290" gradientUnits="userSpaceOnUse" x1="424.6" y1="125.6" x2="424.8" y2="113.5"><stop offset="0.000" stop-color="#d8ff00"/><stop offset="0.509" stop-color="#ffff00"/><stop offset="1.000" stop-color="#ffda00"/></linearGradient><linearGradient id="g291" gradientUnits="userSpaceOnUse" x1="589.8" y1="119.9" x2="589.6" y2="108.3"><stop offset="0.000" stop-color="#ffff00"/><stop offset="0.002" stop-color="#ffff00"/><stop offset="1.000" stop-color="#ffb700"/></linearGradient><linearGradient id="g292" gradientUnits="userSpaceOnUse" x1="461.6" y1="121.3" x2="461.7" y2="109.6"><stop offset="0.000" stop-color="#f6ff00"/><stop offset="0.117" stop-color="#ffff00"/><stop offset="1.000" stop-color="#ffbe00"/></linearGradient><linearGradient id="g293" gradientUnits="userSpaceOnUse" x1="521.2" y1="117.9" x2="521.2" y2="106.4"><stop offset="0.000" stop-color="#fff000"/><stop offset="1.000" stop-color="#ffa900"/></linearGradient><linearGradient id="g294" gradientUnits="userSpaceOnUse" x1="566.9" y1="119.1" x2="566.8" y2="107.5"><stop offset="0.000" stop-color="#fff900"/><stop offset="1.000" stop-color="#ffb100"/></linearGradient><linearGradient id="g295" gradientUnits="userSpaceOnUse" x1="544.0" y1="118.5" x2="544.0" y2="106.9"><stop offset="0.000" stop-color="#fff400"/><stop offset="1.000" stop-color="#ffad00"/></linearGradient><linearGradient id="g296" gradientUnits="userSpaceOnUse" x1="410.4" y1="130.1" x2="410.6" y2="117.6"><stop offset="0.000" stop-color="#baff00"/><stop offset="0.868" stop-color="#ffff00"/><stop offset="1.000" stop-color="#fff500"/></linearGradient><linearGradient id="g297" gradientUnits="userSpaceOnUse" x1="484.4" y1="121.5" x2="484.5" y2="109.7"><stop offset="0.000" stop-color="#f7ff00"/><stop offset="0.113" stop-color="#ffff00"/><stop offset="1.000" stop-color="#ffbe00"/></linearGradient><linearGradient id="g298" gradientUnits="userSpaceOnUse" x1="447.5" y1="125.5" x2="447.6" y2="113.4"><stop offset="0.000" stop-color="#dbff00"/><stop offset="0.473" stop-color="#ffff00"/><stop offset="1.000" stop-color="#ffd700"/></linearGradient><linearGradient id="g299" gradientUnits="userSpaceOnUse" x1="599.1" y1="124.4" x2="598.9" y2="112.3"><stop offset="0.000" stop-color="#e2ff00"/><stop offset="0.382" stop-color="#ffff00"/><stop offset="1.000" stop-color="#ffd100"/></linearGradient><linearGradient id="g300" gradientUnits="userSpaceOnUse" x1="507.3" y1="121.8" x2="507.3" y2="109.9"><stop offset="0.000" stop-color="#f5ff00"/><stop offset="0.129" stop-color="#ffff00"/><stop offset="1.000" stop-color="#ffbf00"/></linearGradient><linearGradient id="g301" gradientUnits="userSpaceOnUse" x1="576.1" y1="123.5" x2="576.0" y2="111.5"><stop offset="0.000" stop-color="#e9ff00"/><stop offset="0.291" stop-color="#ffff00"/><stop offset="1.000" stop-color="#ffca00"/></linearGradient><linearGradient id="g302" gradientUnits="userSpaceOnUse" x1="433.3" y1="129.9" x2="433.5" y2="117.4"><stop offset="0.000" stop-color="#beff00"/><stop offset="0.821" stop-color="#ffff00"/><stop offset="1.000" stop-color="#fff100"/></linearGradient><linearGradient id="g303" gradientUnits="userSpaceOnUse" x1="530.2" y1="122.2" x2="530.2" y2="110.3"><stop offset="0.000" stop-color="#f3ff00"/><stop offset="0.164" stop-color="#ffff00"/><stop offset="1.000" stop-color="#ffc100"/></linearGradient><linearGradient id="g304" gradientUnits="userSpaceOnUse" x1="553.1" y1="122.8" x2="553.1" y2="110.8"><stop offset="0.000" stop-color="#efff00"/><stop offset="0.218" stop-color="#ffff00"/><stop offset="1.000" stop-color="#ffc500"/></linearGradient><linearGradient id="g305" gradientUnits="userSpaceOnUse" x1="470.4" y1="125.6" x2="470.5" y2="113.4"><stop offset="0.000" stop-color="#dcff00"/><stop offset="0.456" stop-color="#ffff00"/><stop offset="1.000" stop-color="#ffd500"/></linearGradient><linearGradient id="g306" gradientUnits="userSpaceOnUse" x1="608.4" y1="129.0" x2="608.2" y2="116.5"><stop offset="0.000" stop-color="#c5ff00"/><stop offset="0.747" stop-color="#ffff00"/><stop offset="1.000" stop-color="#ffeb00"/></linearGradient><linearGradient id="g307" gradientUnits="userSpaceOnUse" x1="419.1" y1="134.4" x2="419.3" y2="121.5"><stop offset="0.000" stop-color="#9fff00"/><stop offset="1.000" stop-color="#f2ff00"/></linearGradient><linearGradient id="g308" gradientUnits="userSpaceOnUse" x1="493.3" y1="125.8" x2="493.4" y2="113.5"><stop offset="0.000" stop-color="#dcff00"/><stop offset="0.459" stop-color="#ffff00"/><stop offset="1.000" stop-color="#ffd500"/></linearGradient><linearGradient id="g309" gradientUnits="userSpaceOnUse" x1="456.3" y1="129.9" x2="456.4" y2="117.3"><stop offset="0.000" stop-color="#c0ff00"/><stop offset="0.793" stop-color="#ffff00"/><stop offset="1.000" stop-color="#ffef00"/></linearGradient><linearGradient id="g310" gradientUnits="userSpaceOnUse" x1="585.3" y1="128.1" x2="585.2" y2="115.6"><stop offset="0.000" stop-color="#ccff00"/><stop offset="0.653" stop-color="#ffff00"/><stop offset="1.000" stop-color="#ffe400"/></linearGradient><linearGradient id="g311" gradientUnits="userSpaceOnUse" x1="516.3" y1="126.1" x2="516.3" y2="113.8"><stop offset="0.000" stop-color="#daff00"/><stop offset="0.480" stop-color="#ffff00"/><stop offset="1.000" stop-color="#ffd700"/></linearGradient><linearGradient id="g312" gradientUnits="userSpaceOnUse" x1="562.3" y1="127.3" x2="562.2" y2="114.9"><stop offset="0.000" stop-color="#d2ff00"/><stop offset="0.577" stop-color="#ffff00"/><stop offset="1.000" stop-color="#ffde00"/></linearGradient><linearGradient id="g313" gradientUnits="userSpaceOnUse" x1="539.3" y1="126.6" x2="539.3" y2="114.3"><stop offset="0.000" stop-color="#d7ff00"/><stop offset="0.519" stop-color="#ffff00"/><stop offset="1.000" stop-color="#ffda00"/></linearGradient><linearGradient id="g314" gradientUnits="userSpaceOnUse" x1="442.1" y1="134.3" x2="442.3" y2="121.4"><stop offset="0.000" stop-color="#a2ff00"/><stop offset="1.000" stop-color="#f5ff00"/></linearGradient><linearGradient id="g315" gradientUnits="userSpaceOnUse" x1="479.3" y1="130.0" x2="479.4" y2="117.4"><stop offset="0.000" stop-color="#c0ff00"/><stop offset="0.784" stop-color="#ffff00"/><stop offset="1.000" stop-color="#ffee00"/></linearGradient><linearGradient id="g316" gradientUnits="userSpaceOnUse" x1="594.7" y1="132.8" x2="594.5" y2="119.9"><stop offset="0.000" stop-color="#aeff00"/><stop offset="1.000" stop-color="#ffff00"/></linearGradient><linearGradient id="g317" gradientUnits="userSpaceOnUse" x1="427.8" y1="139.0" x2="428.0" y2="125.7"><stop offset="0.000" stop-color="#83ff00"/><stop offset="1.000" stop-color="#d8ff00"/></linearGradient><linearGradient id="g318" gradientUnits="userSpaceOnUse" x1="502.3" y1="130.2" x2="502.4" y2="117.6"><stop offset="0.000" stop-color="#bfff00"/><stop offset="0.792" stop-color="#ffff00"/><stop offset="1.000" stop-color="#ffee00"/></linearGradient><linearGradient id="g319" gradientUnits="userSpaceOnUse" x1="571.5" y1="131.9" x2="571.5" y2="119.1"><stop offset="0.000" stop-color="#b4ff00"/><stop offset="0.923" stop-color="#ffff00"/><stop offset="1.000" stop-color="#fff900"/></linearGradient><linearGradient id="g320" gradientUnits="userSpaceOnUse" x1="465.2" y1="134.4" x2="465.3" y2="121.4"><stop offset="0.000" stop-color="#a3ff00"/><stop offset="1.000" stop-color="#f6ff00"/></linearGradient><linearGradient id="g321" gradientUnits="userSpaceOnUse" x1="525.4" y1="130.6" x2="525.4" y2="117.9"><stop offset="0.000" stop-color="#bdff00"/><stop offset="0.818" stop-color="#ffff00"/><stop offset="1.000" stop-color="#fff000"/></linearGradient><linearGradient id="g322" gradientUnits="userSpaceOnUse" x1="548.5" y1="131.2" x2="548.4" y2="118.4"><stop offset="0.000" stop-color="#b9ff00"/><stop offset="0.862" stop-color="#ffff00"/><stop offset="1.000" stop-color="#fff400"/></linearGradient><linearGradient id="g323" gradientUnits="userSpaceOnUse" x1="604.0" y1="137.6" x2="603.9" y2="124.3"><stop offset="0.000" stop-color="#8eff00"/><stop offset="1.000" stop-color="#e2ff00"/></linearGradient><linearGradient id="g324" gradientUnits="userSpaceOnUse" x1="488.2" y1="134.5" x2="488.3" y2="121.5"><stop offset="0.000" stop-color="#a3ff00"/><stop offset="1.000" stop-color="#f7ff00"/></linearGradient><linearGradient id="g325" gradientUnits="userSpaceOnUse" x1="451.0" y1="138.9" x2="451.1" y2="125.6"><stop offset="0.000" stop-color="#85ff00"/><stop offset="1.000" stop-color="#dbff00"/></linearGradient><linearGradient id="g326" gradientUnits="userSpaceOnUse" x1="580.8" y1="136.7" x2="580.7" y2="123.5"><stop offset="0.000" stop-color="#95ff00"/><stop offset="1.000" stop-color="#e9ff00"/></linearGradient><linearGradient id="g327" gradientUnits="userSpaceOnUse" x1="511.4" y1="134.9" x2="511.4" y2="121.8"><stop offset="0.000" stop-color="#a2ff00"/><stop offset="1.000" stop-color="#f5ff00"/></linearGradient><linearGradient id="g328" gradientUnits="userSpaceOnUse" x1="436.7" y1="143.7" x2="436.9" y2="129.9"><stop offset="0.000" stop-color="#65ff00"/><stop offset="1.000" stop-color="#beff00"/></linearGradient><linearGradient id="g329" gradientUnits="userSpaceOnUse" x1="557.7" y1="135.9" x2="557.6" y2="122.8"><stop offset="0.000" stop-color="#9bff00"/><stop offset="1.000" stop-color="#efff00"/></linearGradient><linearGradient id="g330" gradientUnits="userSpaceOnUse" x1="534.5" y1="135.3" x2="534.5" y2="122.2"><stop offset="0.000" stop-color="#9fff00"/><stop offset="1.000" stop-color="#f3ff00"/></linearGradient><linearGradient id="g331" gradientUnits="userSpaceOnUse" x1="474.1" y1="139.0" x2="474.2" y2="125.6"><stop offset="0.000" stop-color="#86ff00"/><stop offset="1.000" stop-color="#dcff00"/></linearGradient><linearGradient id="g332" gradientUnits="userSpaceOnUse" x1="497.3" y1="139.3" x2="497.3" y2="125.8"><stop offset="0.000" stop-color="#85ff00"/><stop offset="1.000" stop-color="#dcff00"/></linearGradient><linearGradient id="g333" gradientUnits="userSpaceOnUse" x1="590.2" y1="141.7" x2="590.1" y2="128.0"><stop offset="0.000" stop-color="#74ff00"/><stop offset="1.000" stop-color="#ccff00"/></linearGradient><linearGradient id="g334" gradientUnits="userSpaceOnUse" x1="459.9" y1="143.7" x2="460.0" y2="129.9"><stop offset="0.000" stop-color="#66ff00"/><stop offset="1.000" stop-color="#c0ff00"/></linearGradient><linearGradient id="g335" gradientUnits="userSpaceOnUse" x1="520.5" y1="139.6" x2="520.5" y2="126.1"><stop offset="0.000" stop-color="#83ff00"/><stop offset="1.000" stop-color="#daff00"/></linearGradient><linearGradient id="g336" gradientUnits="userSpaceOnUse" x1="566.9" y1="140.9" x2="566.9" y2="127.2"><stop offset="0.000" stop-color="#7bff00"/><stop offset="1.000" stop-color="#d2ff00"/></linearGradient><linearGradient id="g337" gradientUnits="userSpaceOnUse" x1="543.7" y1="140.2" x2="543.7" y2="126.6"><stop offset="0.000" stop-color="#80ff00"/><stop offset="1.000" stop-color="#d7ff00"/></linearGradient><linearGradient id="g338" gradientUnits="userSpaceOnUse" x1="445.6" y1="148.6" x2="445.7" y2="134.4"><stop offset="0.000" stop-color="#46ff00"/><stop offset="1.000" stop-color="#a2ff00"/></linearGradient><linearGradient id="g339" gradientUnits="userSpaceOnUse" x1="483.1" y1="143.8" x2="483.2" y2="130.0"><stop offset="0.000" stop-color="#67ff00"/><stop offset="1.000" stop-color="#c0ff00"/></linearGradient><linearGradient id="g340" gradientUnits="userSpaceOnUse" x1="599.6" y1="146.8" x2="599.5" y2="132.7"><stop offset="0.000" stop-color="#53ff00"/><stop offset="1.000" stop-color="#aeff00"/></linearGradient><linearGradient id="g341" gradientUnits="userSpaceOnUse" x1="506.4" y1="144.1" x2="506.4" y2="130.2"><stop offset="0.000" stop-color="#66ff00"/><stop offset="1.000" stop-color="#bfff00"/></linearGradient><linearGradient id="g342" gradientUnits="userSpaceOnUse" x1="576.3" y1="145.9" x2="576.2" y2="131.9"><stop offset="0.000" stop-color="#5aff00"/><stop offset="1.000" stop-color="#b4ff00"/></linearGradient><linearGradient id="g343" gradientUnits="userSpaceOnUse" x1="529.6" y1="144.6" x2="529.6" y2="130.6"><stop offset="0.000" stop-color="#63ff00"/><stop offset="1.000" stop-color="#bdff00"/></linearGradient><linearGradient id="g344" gradientUnits="userSpaceOnUse" x1="468.8" y1="148.6" x2="469.0" y2="134.4"><stop offset="0.000" stop-color="#47ff00"/><stop offset="1.000" stop-color="#a3ff00"/></linearGradient><linearGradient id="g345" gradientUnits="userSpaceOnUse" x1="552.9" y1="145.2" x2="552.9" y2="131.2"><stop offset="0.000" stop-color="#5fff00"/><stop offset="1.000" stop-color="#b9ff00"/></linearGradient><linearGradient id="g346" gradientUnits="userSpaceOnUse" x1="492.2" y1="148.8" x2="492.2" y2="134.5"><stop offset="0.000" stop-color="#47ff00"/><stop offset="1.000" stop-color="#a3ff00"/></linearGradient><linearGradient id="g347" gradientUnits="userSpaceOnUse" x1="454.5" y1="153.6" x2="454.7" y2="139.0"><stop offset="0.000" stop-color="#25ff00"/><stop offset="1.000" stop-color="#85ff00"/></linearGradient><linearGradient id="g348" gradientUnits="userSpaceOnUse" x1="585.7" y1="151.2" x2="585.6" y2="136.7"><stop offset="0.000" stop-color="#37ff00"/><stop offset="1.000" stop-color="#95ff00"/></linearGradient><linearGradient id="g349" gradientUnits="userSpaceOnUse" x1="515.5" y1="149.2" x2="515.5" y2="134.9"><stop offset="0.000" stop-color="#45ff00"/><stop offset="1.000" stop-color="#a2ff00"/></linearGradient><linearGradient id="g350" gradientUnits="userSpaceOnUse" x1="562.3" y1="150.4" x2="562.2" y2="135.9"><stop offset="0.000" stop-color="#3dff00"/><stop offset="1.000" stop-color="#9bff00"/></linearGradient><linearGradient id="g351" gradientUnits="userSpaceOnUse" x1="538.9" y1="149.7" x2="538.9" y2="135.3"><stop offset="0.000" stop-color="#42ff00"/><stop offset="1.000" stop-color="#9fff00"/></linearGradient><linearGradient id="g352" gradientUnits="userSpaceOnUse" x1="477.9" y1="153.7" x2="478.0" y2="139.0"><stop offset="0.000" stop-color="#26ff00"/><stop offset="1.000" stop-color="#86ff00"/></linearGradient><linearGradient id="g353" gradientUnits="userSpaceOnUse" x1="595.1" y1="156.6" x2="595.0" y2="141.7"><stop offset="0.000" stop-color="#13ff00"/><stop offset="1.000" stop-color="#74ff00"/></linearGradient><linearGradient id="g354" gradientUnits="userSpaceOnUse" x1="501.3" y1="154.0" x2="501.4" y2="139.3"><stop offset="0.000" stop-color="#25ff00"/><stop offset="1.000" stop-color="#85ff00"/></linearGradient><linearGradient id="g355" gradientUnits="userSpaceOnUse" x1="463.5" y1="158.8" x2="463.7" y2="143.7"><stop offset="0.000" stop-color="#04ff00"/><stop offset="1.000" stop-color="#66ff00"/></linearGradient><linearGradient id="g356" gradientUnits="userSpaceOnUse" x1="571.6" y1="155.7" x2="571.6" y2="140.8"><stop offset="0.000" stop-color="#1aff00"/><stop offset="1.000" stop-color="#7bff00"/></linearGradient><linearGradient id="g357" gradientUnits="userSpaceOnUse" x1="524.7" y1="154.4" x2="524.7" y2="139.6"><stop offset="0.000" stop-color="#23ff00"/><stop offset="1.000" stop-color="#83ff00"/></linearGradient><linearGradient id="g358" gradientUnits="userSpaceOnUse" x1="548.2" y1="155.0" x2="548.1" y2="140.2"><stop offset="0.000" stop-color="#1fff00"/><stop offset="1.000" stop-color="#80ff00"/></linearGradient><linearGradient id="g359" gradientUnits="userSpaceOnUse" x1="487.0" y1="159.0" x2="487.1" y2="143.9"><stop offset="0.000" stop-color="#04ff00"/><stop offset="1.000" stop-color="#67ff00"/></linearGradient><linearGradient id="g360" gradientUnits="userSpaceOnUse" x1="581.1" y1="161.2" x2="581.0" y2="145.9"><stop offset="0.000" stop-color="#00ff0b"/><stop offset="0.108" stop-color="#00ff00"/><stop offset="1.000" stop-color="#5aff00"/></linearGradient><linearGradient id="g361" gradientUnits="userSpaceOnUse" x1="510.5" y1="159.3" x2="510.5" y2="144.2"><stop offset="0.000" stop-color="#02ff00"/><stop offset="1.000" stop-color="#66ff00"/></linearGradient><linearGradient id="g362" gradientUnits="userSpaceOnUse" x1="557.5" y1="160.4" x2="557.5" y2="145.2"><stop offset="0.000" stop-color="#00ff05"/><stop offset="0.050" stop-color="#00ff00"/><stop offset="1.000" stop-color="#5fff00"/></linearGradient><linearGradient id="g363" gradientUnits="userSpaceOnUse" x1="534.0" y1="159.8" x2="534.0" y2="144.6"><stop offset="0.000" stop-color="#00ff01"/><stop offset="0.007" stop-color="#00ff00"/><stop offset="1.000" stop-color="#63ff00"/></linearGradient><linearGradient id="g364" gradientUnits="userSpaceOnUse" x1="472.6" y1="164.2" x2="472.8" y2="148.7"><stop offset="0.000" stop-color="#00ff1f"/><stop offset="0.307" stop-color="#00ff00"/><stop offset="1.000" stop-color="#47ff00"/></linearGradient><linearGradient id="g365" gradientUnits="userSpaceOnUse" x1="496.2" y1="164.4" x2="496.3" y2="148.9"><stop offset="0.000" stop-color="#00ff20"/><stop offset="0.312" stop-color="#00ff00"/><stop offset="1.000" stop-color="#47ff00"/></linearGradient><linearGradient id="g366" gradientUnits="userSpaceOnUse" x1="590.6" y1="166.9" x2="590.5" y2="151.2"><stop offset="0.000" stop-color="#00ff31"/><stop offset="0.469" stop-color="#00ff00"/><stop offset="1.000" stop-color="#37ff00"/></linearGradient><linearGradient id="g367" gradientUnits="userSpaceOnUse" x1="519.7" y1="164.8" x2="519.8" y2="149.2"><stop offset="0.000" stop-color="#00ff22"/><stop offset="0.330" stop-color="#00ff00"/><stop offset="1.000" stop-color="#45ff00"/></linearGradient><linearGradient id="g368" gradientUnits="userSpaceOnUse" x1="566.9" y1="166.1" x2="566.9" y2="150.4"><stop offset="0.000" stop-color="#00ff2a"/><stop offset="0.409" stop-color="#00ff00"/><stop offset="1.000" stop-color="#3dff00"/></linearGradient><linearGradient id="g369" gradientUnits="userSpaceOnUse" x1="543.3" y1="165.4" x2="543.3" y2="149.7"><stop offset="0.000" stop-color="#00ff25"/><stop offset="0.363" stop-color="#00ff00"/><stop offset="1.000" stop-color="#42ff00"/></linearGradient><linearGradient id="g370" gradientUnits="userSpaceOnUse" x1="481.8" y1="169.7" x2="481.9" y2="153.7"><stop offset="0.000" stop-color="#00ff44"/><stop offset="0.641" stop-color="#00ff00"/><stop offset="1.000" stop-color="#26ff00"/></linearGradient><linearGradient id="g371" gradientUnits="userSpaceOnUse" x1="505.4" y1="170.0" x2="505.5" y2="154.0"><stop offset="0.000" stop-color="#00ff45"/><stop offset="0.650" stop-color="#00ff00"/><stop offset="1.000" stop-color="#25ff00"/></linearGradient><linearGradient id="g372" gradientUnits="userSpaceOnUse" x1="576.4" y1="171.9" x2="576.4" y2="155.7"><stop offset="0.000" stop-color="#00ff51"/><stop offset="0.758" stop-color="#00ff00"/><stop offset="1.000" stop-color="#1aff00"/></linearGradient><linearGradient id="g373" gradientUnits="userSpaceOnUse" x1="529.1" y1="170.5" x2="529.1" y2="154.4"><stop offset="0.000" stop-color="#00ff47"/><stop offset="0.673" stop-color="#00ff00"/><stop offset="1.000" stop-color="#23ff00"/></linearGradient><linearGradient id="g374" gradientUnits="userSpaceOnUse" x1="552.7" y1="171.1" x2="552.7" y2="155.0"><stop offset="0.000" stop-color="#00ff4b"/><stop offset="0.709" stop-color="#00ff00"/><stop offset="1.000" stop-color="#1fff00"/></linearGradient><linearGradient id="g375" gradientUnits="userSpaceOnUse" x1="491.0" y1="175.4" x2="491.1" y2="159.0"><stop offset="0.000" stop-color="#00ff69"/><stop offset="0.967" stop-color="#00ff00"/><stop offset="1.000" stop-color="#04ff00"/></linearGradient><linearGradient id="g376" gradientUnits="userSpaceOnUse" x1="586.0" y1="177.8" x2="585.9" y2="161.2"><stop offset="0.000" stop-color="#00ff79"/><stop offset="1.000" stop-color="#00ff0b"/></linearGradient><linearGradient id="g377" gradientUnits="userSpaceOnUse" x1="514.7" y1="175.8" x2="514.8" y2="159.3"><stop offset="0.000" stop-color="#00ff6b"/><stop offset="0.980" stop-color="#00ff00"/><stop offset="1.000" stop-color="#02ff00"/></linearGradient><linearGradient id="g378" gradientUnits="userSpaceOnUse" x1="562.2" y1="177.0" x2="562.1" y2="160.4"><stop offset="0.000" stop-color="#00ff73"/><stop offset="1.000" stop-color="#00ff05"/></linearGradient><linearGradient id="g379" gradientUnits="userSpaceOnUse" x1="538.4" y1="176.3" x2="538.4" y2="159.8"><stop offset="0.000" stop-color="#00ff6e"/><stop offset="1.000" stop-color="#00ff01"/></linearGradient><linearGradient id="g380" gradientUnits="userSpaceOnUse" x1="500.3" y1="181.3" x2="500.4" y2="164.4"><stop offset="0.000" stop-color="#00ff90"/><stop offset="1.000" stop-color="#00ff20"/></linearGradient><linearGradient id="g381" gradientUnits="userSpaceOnUse" x1="571.7" y1="183.1" x2="571.6" y2="166.1"><stop offset="0.000" stop-color="#00ff9b"/><stop offset="1.000" stop-color="#00ff2a"/></linearGradient><linearGradient id="g382" gradientUnits="userSpaceOnUse" x1="524.1" y1="181.7" x2="524.1" y2="164.8"><stop offset="0.000" stop-color="#00ff92"/><stop offset="1.000" stop-color="#00ff22"/></linearGradient><linearGradient id="g383" gradientUnits="userSpaceOnUse" x1="547.9" y1="182.3" x2="547.9" y2="165.4"><stop offset="0.000" stop-color="#00ff96"/><stop offset="1.000" stop-color="#00ff25"/></linearGradient><linearGradient id="g384" gradientUnits="userSpaceOnUse" x1="581.3" y1="189.3" x2="581.2" y2="171.8"><stop offset="0.000" stop-color="#00ffc5"/><stop offset="1.000" stop-color="#00ff51"/></linearGradient><linearGradient id="g385" gradientUnits="userSpaceOnUse" x1="509.6" y1="187.3" x2="509.7" y2="170.0"><stop offset="0.000" stop-color="#00ffb8"/><stop offset="1.000" stop-color="#00ff45"/></linearGradient><linearGradient id="g386" gradientUnits="userSpaceOnUse" x1="557.4" y1="188.5" x2="557.3" y2="171.1"><stop offset="0.000" stop-color="#00ffbf"/><stop offset="1.000" stop-color="#00ff4b"/></linearGradient><linearGradient id="g387" gradientUnits="userSpaceOnUse" x1="533.5" y1="187.8" x2="533.5" y2="170.5"><stop offset="0.000" stop-color="#00ffbb"/><stop offset="1.000" stop-color="#00ff47"/></linearGradient><linearGradient id="g388" gradientUnits="userSpaceOnUse" x1="519.0" y1="193.6" x2="519.1" y2="175.8"><stop offset="0.000" stop-color="#00ffe2"/><stop offset="1.000" stop-color="#00ff6b"/></linearGradient><linearGradient id="g389" gradientUnits="userSpaceOnUse" x1="566.9" y1="194.8" x2="566.9" y2="177.0"><stop offset="0.000" stop-color="#00ffea"/><stop offset="1.000" stop-color="#00ff73"/></linearGradient><linearGradient id="g390" gradientUnits="userSpaceOnUse" x1="542.9" y1="194.1" x2="543.0" y2="176.3"><stop offset="0.000" stop-color="#00ffe5"/><stop offset="1.000" stop-color="#00ff6e"/></linearGradient><linearGradient id="g391" gradientUnits="userSpaceOnUse" x1="576.5" y1="201.4" x2="576.5" y2="183.1"><stop offset="0.000" stop-color="#00e8ff"/><stop offset="0.186" stop-color="#00ffff"/><stop offset="1.000" stop-color="#00ff9b"/></linearGradient><linearGradient id="g392" gradientUnits="userSpaceOnUse" x1="528.4" y1="199.9" x2="528.5" y2="181.7"><stop offset="0.000" stop-color="#00f2ff"/><stop offset="0.110" stop-color="#00ffff"/><stop offset="1.000" stop-color="#00ff92"/></linearGradient><linearGradient id="g393" gradientUnits="userSpaceOnUse" x1="552.5" y1="200.6" x2="552.5" y2="182.3"><stop offset="0.000" stop-color="#00eeff"/><stop offset="0.142" stop-color="#00ffff"/><stop offset="1.000" stop-color="#00ff96"/></linearGradient><linearGradient id="g394" gradientUnits="userSpaceOnUse" x1="562.1" y1="207.2" x2="562.1" y2="188.5"><stop offset="0.000" stop-color="#00c1ff"/><stop offset="0.493" stop-color="#00ffff"/><stop offset="1.000" stop-color="#00ffbf"/></linearGradient><linearGradient id="g395" gradientUnits="userSpaceOnUse" x1="538.0" y1="206.5" x2="538.0" y2="187.8"><stop offset="0.000" stop-color="#00c6ff"/><stop offset="0.458" stop-color="#00ffff"/><stop offset="1.000" stop-color="#00ffbb"/></linearGradient><linearGradient id="g396" gradientUnits="userSpaceOnUse" x1="571.7" y1="214.0" x2="571.7" y2="194.8"><stop offset="0.000" stop-color="#0093ff"/><stop offset="0.837" stop-color="#00ffff"/><stop offset="1.000" stop-color="#00ffea"/></linearGradient><linearGradient id="g397" gradientUnits="userSpaceOnUse" x1="547.5" y1="213.3" x2="547.6" y2="194.1"><stop offset="0.000" stop-color="#0098ff"/><stop offset="0.798" stop-color="#00ffff"/><stop offset="1.000" stop-color="#00ffe5"/></linearGradient><linearGradient id="g398" gradientUnits="userSpaceOnUse" x1="557.2" y1="220.2" x2="557.2" y2="200.6"><stop offset="0.000" stop-color="#006aff"/><stop offset="1.000" stop-color="#00eeff"/></linearGradient><linearGradient id="g399" gradientUnits="userSpaceOnUse" x1="566.8" y1="227.3" x2="566.8" y2="207.2"><stop offset="0.000" stop-color="#003aff"/><stop offset="1.000" stop-color="#00c1ff"/></linearGradient></defs>
<polygon points="484,53.1 491.7,52.8 496.2,53.6 488.5,54" fill="url(#g0)" stroke="#111" stroke-width="0.7" stroke-linejoin="round"/>
<polygon points="491.7,52.8 499.5,52.7 503.9,53.2 496.2,53.6" fill="url(#g1)" stroke="#111" stroke-width="0.7" stroke-linejoin="round"/>
<polygon points="479.5,52.6 487.2,52.5 491.7,52.8 484,53.1" fill="url(#g2)" stroke="#111" stroke-width="0.7" stroke-linejoin="round"/>
<polygon points="499.5,52.7 507.3,52.7 511.7,53 503.9,53.2" fill="url(#g3)" stroke="#111" stroke-width="0.7" stroke-linejoin="round"/>
<polygon points="487.2,52.5 495,52.5 499.5,52.7 491.7,52.8" fill="url(#g4)" stroke="#111" stroke-width="0.7" stroke-linejoin="round"/>
<polygon points="507.3,52.7 515.2,52.7 519.6,52.9 511.7,53" fill="url(#g5)" stroke="#111" stroke-width="0.7" stroke-linejoin="round"/>
<polygon points="474.8,52.4 482.6,52.5 487.2,52.5 479.5,52.6" fill="url(#g6)" stroke="#111" stroke-width="0.7" stroke-linejoin="round"/>
<polygon points="495,52.5 502.9,52.7 507.3,52.7 499.5,52.7" fill="url(#g7)" stroke="#111" stroke-width="0.7" stroke-linejoin="round"/>
<polygon points="515.2,52.7 523.2,53 527.5,53 519.6,52.9" fill="url(#g8)" stroke="#111" stroke-width="0.7" stroke-linejoin="round"/>
<polygon points="482.6,52.5 490.5,52.7 495,52.5 487.2,52.5" fill="url(#g9)" stroke="#111" stroke-width="0.7" stroke-linejoin="round"/>
<polygon points="502.9,52.7 510.8,52.9 515.2,52.7 507.3,52.7" fill="url(#g10)" stroke="#111" stroke-width="0.7" stroke-linejoin="round"/>
<polygon points="523.2,53 531.2,53.3 535.5,53.1 527.5,53" fill="url(#g11)" stroke="#111" stroke-width="0.7" stroke-linejoin="round"/>
<polygon points="470.1,52.7 478,53 482.6,52.5 474.8,52.4" fill="url(#g12)" stroke="#111" stroke-width="0.7" stroke-linejoin="round"/>
<polygon points="490.5,52.7 498.4,53.1 502.9,52.7 495,52.5" fill="url(#g13)" stroke="#111" stroke-width="0.7" stroke-linejoin="round"/>
<polygon points="510.8,52.9 518.9,53.3 523.2,53 515.2,52.7" fill="url(#g14)" stroke="#111" stroke-width="0.7" stroke-linejoin="round"/>
<polygon points="531.2,53.3 539.3,53.7 543.5,53.4 535.5,53.1" fill="url(#g15)" stroke="#111" stroke-width="0.7" stroke-linejoin="round"/>
<polygon points="478,53 485.9,53.4 490.5,52.7 482.6,52.5" fill="#ff0000" stroke="#111" stroke-width="0.7" stroke-linejoin="round"/>
<polygon points="498.4,53.1 506.4,53.5 510.8,52.9 502.9,52.7" fill="#ff0000" stroke="#111" stroke-width="0.7" stroke-linejoin="round"/>
<polygon points="518.9,53.3 526.9,53.9 531.2,53.3 523.2,53" fill="#ff0000" stroke="#111" stroke-width="0.7" stroke-linejoin="round"/>
<polygon points="539.3,53.7 547.5,54.3 551.6,53.7 543.5,53.4" fill="#ff0000" stroke="#111" stroke-width="0.7" stroke-linejoin="round"/>
<polygon points="465.4,53.3 473.2,53.8 478,53 470.1,52.7" fill="#ff0000" stroke="#111" stroke-width="0.7" stroke-linejoin="round"/>
<polygon points="485.9,53.4 493.8,53.9 498.4,53.1 490.5,52.7" fill="#ff0000" stroke="#111" stroke-width="0.7" stroke-linejoin="round"/>
<polygon points="506.4,53.5 514.4,54.1 518.9,53.3 510.8,52.9" fill="#ff0000" stroke="#111" stroke-width="0.7" stroke-linejoin="round"/>
<polygon points="526.9,53.9 535.1,54.5 539.3,53.7 531.2,53.3" fill="#ff0000" stroke="#111" stroke-width="0.7" stroke-linejoin="round"/>
<polygon points="547.5,54.3 555.7,55 559.8,54.3 551.6,53.7" fill="#ff0000" stroke="#111" stroke-width="0.7" stroke-linejoin="round"/>
<polygon points="473.2,53.8 481.2,54.4 485.9,53.4 478,53" fill="#ff0000" stroke="#111" stroke-width="0.7" stroke-linejoin="round"/>
<polygon points="493.8,53.9 501.9,54.6 506.4,53.5 498.4,53.1" fill="#ff0000" stroke="#111" stroke-width="0.7" stroke-linejoin="round"/>
<polygon points="514.4,54.1 522.6,54.8 526.9,53.9 518.9,53.3" fill="#ff0000" stroke="#111" stroke-width="0.7" stroke-linejoin="round"/>
<polygon points="555.7,55 564,55.8 568.1,54.9 559.8,54.3" fill="#ff0000" stroke="#111" stroke-width="0.7" stroke-linejoin="round"/>
<polygon points="535.1,54.5 543.3,55.3 547.5,54.3 539.3,53.7" fill="#ff0000" stroke="#111" stroke-width="0.7" stroke-linejoin="round"/>
<polygon points="460.5,54.4 468.4,55.1 473.2,53.8 465.4,53.3" fill="#ff0000" stroke="#111" stroke-width="0.7" stroke-linejoin="round"/>
<polygon points="481.2,54.4 489.2,55.1 493.8,53.9 485.9,53.4" fill="#ff0000" stroke="#111" stroke-width="0.7" stroke-linejoin="round"/>
<polygon points="501.9,54.6 510,55.3 514.4,54.1 506.4,53.5" fill="#ff0000" stroke="#111" stroke-width="0.7" stroke-linejoin="round"/>
<polygon points="564,55.8 572.4,56.8 576.4,55.6 568.1,54.9" fill="#ff0000" stroke="#111" stroke-width="0.7" stroke-linejoin="round"/>
<polygon points="522.6,54.8 530.8,55.7 535.1,54.5 526.9,53.9" fill="#ff0000" stroke="#111" stroke-width="0.7" stroke-linejoin="round"/>
<polygon points="543.3,55.3 551.6,56.2 555.7,55 547.5,54.3" fill="#ff0000" stroke="#111" stroke-width="0.7" stroke-linejoin="round"/>
<polygon points="468.4,55.1 476.4,55.9 481.2,54.4 473.2,53.8" fill="#ff0000" stroke="#111" stroke-width="0.7" stroke-linejoin="round"/>
<polygon points="489.2,55.1 497.3,56 501.9,54.6 493.8,53.9" fill="#ff0000" stroke="#111" stroke-width="0.7" stroke-linejoin="round"/>
<polygon points="510,55.3 518.1,56.3 522.6,54.8 514.4,54.1" fill="#ff0000" stroke="#111" stroke-width="0.7" stroke-linejoin="round"/>
<polygon points="572.4,56.8 580.8,57.9 584.8,56.5 576.4,55.6" fill="#ff0000" stroke="#111" stroke-width="0.7" stroke-linejoin="round"/>
<polygon points="530.8,55.7 539,56.7 543.3,55.3 535.1,54.5" fill="#ff0000" stroke="#111" stroke-width="0.7" stroke-linejoin="round"/>
<polygon points="551.6,56.2 559.9,57.2 564,55.8 555.7,55" fill="#ff0000" stroke="#111" stroke-width="0.7" stroke-linejoin="round"/>
<polygon points="455.6,55.9 463.6,56.8 468.4,55.1 460.5,54.4" fill="#ff0000" stroke="#111" stroke-width="0.7" stroke-linejoin="round"/>
<polygon points="476.4,55.9 484.5,56.8 489.2,55.1 481.2,54.4" fill="#ff0000" stroke="#111" stroke-width="0.7" stroke-linejoin="round"/>
<polygon points="497.3,56 505.4,57 510,55.3 501.9,54.6" fill="#ff0000" stroke="#111" stroke-width="0.7" stroke-linejoin="round"/>
<polygon points="580.8,57.9 589.3,59.1 593.2,57.5 584.8,56.5" fill="#ff0000" stroke="#111" stroke-width="0.7" stroke-linejoin="round"/>
<polygon points="518.1,56.3 526.4,57.3 530.8,55.7 522.6,54.8" fill="#ff0000" stroke="#111" stroke-width="0.7" stroke-linejoin="round"/>
<polygon points="559.9,57.2 568.3,58.4 572.4,56.8 564,55.8" fill="#ff0000" stroke="#111" stroke-width="0.7" stroke-linejoin="round"/>
<polygon points="539,56.7 547.3,57.8 551.6,56.2 543.3,55.3" fill="#ff0000" stroke="#111" stroke-width="0.7" stroke-linejoin="round"/>
<polygon points="463.6,56.8 471.6,57.8 476.4,55.9 468.4,55.1" fill="#ff0000" stroke="#111" stroke-width="0.7" stroke-linejoin="round"/>
<polygon points="484.5,56.8 492.6,57.9 497.3,56 489.2,55.1" fill="#ff0000" stroke="#111" stroke-width="0.7" stroke-linejoin="round"/>
<polygon points="589.3,59.1 597.9,60.4 601.7,58.7 593.2,57.5" fill="#ff0000" stroke="#111" stroke-width="0.7" stroke-linejoin="round"/>
<polygon points="505.4,57 513.6,58.1 518.1,56.3 510,55.3" fill="#ff0000" stroke="#111" stroke-width="0.7" stroke-linejoin="round"/>
<polygon points="568.3,58.4 576.8,59.6 580.8,57.9 572.4,56.8" fill="#ff0000" stroke="#111" stroke-width="0.7" stroke-linejoin="round"/>
<polygon points="450.7,57.8 458.7,58.9 463.6,56.8 455.6,55.9" fill="#ff0000" stroke="#111" stroke-width="0.7" stroke-linejoin="round"/>
<polygon points="526.4,57.3 534.7,58.5 539,56.7 530.8,55.7" fill="#ff0000" stroke="#111" stroke-width="0.7" stroke-linejoin="round"/>
<polygon points="547.3,57.8 555.7,59 559.9,57.2 551.6,56.2" fill="#ff0000" stroke="#111" stroke-width="0.7" stroke-linejoin="round"/>
<polygon points="471.6,57.8 479.7,58.9 484.5,56.8 476.4,55.9" fill="#ff0000" stroke="#111" stroke-width="0.7" stroke-linejoin="round"/>
<polygon points="597.9,60.4 606.5,61.9 610.3,59.9 601.7,58.7" fill="#ff0000" stroke="#111" stroke-width="0.7" stroke-linejoin="round"/>
<polygon points="492.6,57.9 500.8,59.1 505.4,57 497.3,56" fill="#ff0000" stroke="#111" stroke-width="0.7" stroke-linejoin="round"/>
<polygon points="576.8,59.6 585.3,61.1 589.3,59.1 580.8,57.9" fill="#ff0000" stroke="#111" stroke-width="0.7" stroke-linejoin="round"/>
<polygon points="513.6,58.1 521.9,59.4 526.4,57.3 518.1,56.3" fill="#ff0000" stroke="#111" stroke-width="0.7" stroke-linejoin="round"/>
<polygon points="555.7,59 564.2,60.4 568.3,58.4 559.9,57.2" fill="#ff0000" stroke="#111" stroke-width="0.7" stroke-linejoin="round"/>
<polygon points="534.7,58.5 543,59.8 547.3,57.8 539,56.7" fill="#ff0000" stroke="#111" stroke-width="0.7" stroke-linejoin="round"/>
<polygon points="458.7,58.9 466.7,60.1 471.6,57.8 463.6,56.8" fill="#ff0000" stroke="#111" stroke-width="0.7" stroke-linejoin="round"/>
<polygon points="606.5,61.9 615.2,63.5 619,61.4 610.3,59.9" fill="#ff0000" stroke="#111" stroke-width="0.7" stroke-linejoin="round"/>
<polygon points="479.7,58.9 487.9,60.2 492.6,57.9 484.5,56.8" fill="#ff0000" stroke="#111" stroke-width="0.7" stroke-linejoin="round"/>
<polygon points="585.3,61.1 593.9,62.6 597.9,60.4 589.3,59.1" fill="#ff0000" stroke="#111" stroke-width="0.7" stroke-linejoin="round"/>
<polygon points="500.8,59.1 509.1,60.4 513.6,58.1 505.4,57" fill="#ff0000" stroke="#111" stroke-width="0.7" stroke-linejoin="round"/>
<polygon points="445.6,60.2 453.7,61.5 458.7,58.9 450.7,57.8" fill="#ff0000" stroke="#111" stroke-width="0.7" stroke-linejoin="round"/>
<polygon points="564.2,60.4 572.7,61.9 576.8,59.6 568.3,58.4" fill="#ff0000" stroke="#111" stroke-width="0.7" stroke-linejoin="round"/>
<polygon points="521.9,59.4 530.3,60.7 534.7,58.5 526.4,57.3" fill="#ff0000" stroke="#111" stroke-width="0.7" stroke-linejoin="round"/>
<polygon points="543,59.8 551.5,61.2 555.7,59 547.3,57.8" fill="#ff0000" stroke="#111" stroke-width="0.7" stroke-linejoin="round"/>
<polygon points="466.7,60.1 474.9,61.5 479.7,58.9 471.6,57.8" fill="#ff0000" stroke="#111" stroke-width="0.7" stroke-linejoin="round"/>
<polygon points="615.2,63.5 624,65.3 627.7,62.9 619,61.4" fill="#ff0000" stroke="#111" stroke-width="0.7" stroke-linejoin="round"/>
<polygon points="487.9,60.2 496.1,61.6 500.8,59.1 492.6,57.9" fill="#ff0000" stroke="#111" stroke-width="0.7" stroke-linejoin="round"/>
<polygon points="593.9,62.6 602.6,64.3 606.5,61.9 597.9,60.4" fill="#ff0000" stroke="#111" stroke-width="0.7" stroke-linejoin="round"/>
<polygon points="509.1,60.4 517.4,61.9 521.9,59.4 513.6,58.1" fill="#ff0000" stroke="#111" stroke-width="0.7" stroke-linejoin="round"/>
<polygon points="572.7,61.9 581.3,63.5 585.3,61.1 576.8,59.6" fill="#ff0000" stroke="#111" stroke-width="0.7" stroke-linejoin="round"/>
<polygon points="530.3,60.7 538.7,62.3 543,59.8 534.7,58.5" fill="#ff0000" stroke="#111" stroke-width="0.7" stroke-linejoin="round"/>
<polygon points="551.5,61.2 560,62.8 564.2,60.4 555.7,59" fill="#ff0000" stroke="#111" stroke-width="0.7" stroke-linejoin="round"/>
<polygon points="453.7,61.5 461.8,62.9 466.7,60.1 458.7,58.9" fill="#ff0000" stroke="#111" stroke-width="0.7" stroke-linejoin="round"/>
<polygon points="624,65.3 632.8,67.2 636.5,64.6 627.7,62.9" fill="#ff0000" stroke="#111" stroke-width="0.7" stroke-linejoin="round"/>
<polygon points="474.9,61.5 483.1,63 487.9,60.2 479.7,58.9" fill="#ff0000" stroke="#111" stroke-width="0.7" stroke-linejoin="round"/>
<polygon points="602.6,64.3 611.4,66.2 615.2,63.5 606.5,61.9" fill="#ff0000" stroke="#111" stroke-width="0.7" stroke-linejoin="round"/>
<polygon points="440.5,63 448.6,64.5 453.7,61.5 445.6,60.2" fill="#ff0000" stroke="#111" stroke-width="0.7" stroke-linejoin="round"/>
<polygon points="496.1,61.6 504.4,63.1 509.1,60.4 500.8,59.1" fill="#ff0000" stroke="#111" stroke-width="0.7" stroke-linejoin="round"/>
<polygon points="581.3,63.5 589.9,65.3 593.9,62.6 585.3,61.1" fill="#ff0000" stroke="#111" stroke-width="0.7" stroke-linejoin="round"/>
<polygon points="632.8,67.2 641.7,69.2 645.3,66.4 636.5,64.6" fill="#ff0000" stroke="#111" stroke-width="0.7" stroke-linejoin="round"/>
<polygon points="517.4,61.9 525.8,63.5 530.3,60.7 521.9,59.4" fill="#ff0000" stroke="#111" stroke-width="0.7" stroke-linejoin="round"/>
<polygon points="560,62.8 568.5,64.5 572.7,61.9 564.2,60.4" fill="#ff0000" stroke="#111" stroke-width="0.7" stroke-linejoin="round"/>
<polygon points="538.7,62.3 547.2,63.9 551.5,61.2 543,59.8" fill="#ff0000" stroke="#111" stroke-width="0.7" stroke-linejoin="round"/>
<polygon points="461.8,62.9 470,64.5 474.9,61.5 466.7,60.1" fill="#ff0000" stroke="#111" stroke-width="0.7" stroke-linejoin="round"/>
<polygon points="611.4,66.2 620.2,68.1 624,65.3 615.2,63.5" fill="#ff0000" stroke="#111" stroke-width="0.7" stroke-linejoin="round"/>
<polygon points="483.1,63 491.4,64.6 496.1,61.6 487.9,60.2" fill="#ff0000" stroke="#111" stroke-width="0.7" stroke-linejoin="round"/>
<polygon points="641.7,69.2 650.6,71.4 654.2,68.3 645.3,66.4" fill="url(#g95)" stroke="#111" stroke-width="0.7" stroke-linejoin="round"/>
<polygon points="589.9,65.3 598.7,67.2 602.6,64.3 593.9,62.6" fill="#ff0000" stroke="#111" stroke-width="0.7" stroke-linejoin="round"/>
<polygon points="504.4,63.1 512.8,64.8 517.4,61.9 509.1,60.4" fill="#ff0000" stroke="#111" stroke-width="0.7" stroke-linejoin="round"/>
<polygon points="448.6,64.5 456.8,66.2 461.8,62.9 453.7,61.5" fill="#ff0000" stroke="#111" stroke-width="0.7" stroke-linejoin="round"/>
<polygon points="568.5,64.5 577.2,66.4 581.3,63.5 572.7,61.9" fill="#ff0000" stroke="#111" stroke-width="0.7" stroke-linejoin="round"/>
<polygon points="525.8,63.5 534.2,65.2 538.7,62.3 530.3,60.7" fill="#ff0000" stroke="#111" stroke-width="0.7" stroke-linejoin="round"/>
<polygon points="547.2,63.9 555.7,65.7 560,62.8 551.5,61.2" fill="#ff0000" stroke="#111" stroke-width="0.7" stroke-linejoin="round"/>
<polygon points="620.2,68.1 629,70.2 632.8,67.2 624,65.3" fill="#ff0000" stroke="#111" stroke-width="0.7" stroke-linejoin="round"/>
<polygon points="470,64.5 478.2,66.2 483.1,63 474.9,61.5" fill="#ff0000" stroke="#111" stroke-width="0.7" stroke-linejoin="round"/>
<polygon points="435.4,66.3 443.5,68 448.6,64.5 440.5,63" fill="#ff0000" stroke="#111" stroke-width="0.7" stroke-linejoin="round"/>
<polygon points="598.7,67.2 607.4,69.2 611.4,66.2 602.6,64.3" fill="#ff0000" stroke="#111" stroke-width="0.7" stroke-linejoin="round"/>
<polygon points="491.4,64.6 499.7,66.3 504.4,63.1 496.1,61.6" fill="#ff0000" stroke="#111" stroke-width="0.7" stroke-linejoin="round"/>
<polygon points="577.2,66.4 585.9,68.4 589.9,65.3 581.3,63.5" fill="#ff0000" stroke="#111" stroke-width="0.7" stroke-linejoin="round"/>
<polygon points="512.8,64.8 521.2,66.6 525.8,63.5 517.4,61.9" fill="#ff0000" stroke="#111" stroke-width="0.7" stroke-linejoin="round"/>
<polygon points="629,70.2 638,72.5 641.7,69.2 632.8,67.2" fill="url(#g109)" stroke="#111" stroke-width="0.7" stroke-linejoin="round"/>
<polygon points="555.7,65.7 564.3,67.7 568.5,64.5 560,62.8" fill="#ff0000" stroke="#111" stroke-width="0.7" stroke-linejoin="round"/>
<polygon points="534.2,65.2 542.8,67.1 547.2,63.9 538.7,62.3" fill="#ff0000" stroke="#111" stroke-width="0.7" stroke-linejoin="round"/>
<polygon points="456.8,66.2 465,68 470,64.5 461.8,62.9" fill="#ff0000" stroke="#111" stroke-width="0.7" stroke-linejoin="round"/>
<polygon points="607.4,69.2 616.3,71.4 620.2,68.1 611.4,66.2" fill="#ff0000" stroke="#111" stroke-width="0.7" stroke-linejoin="round"/>
<polygon points="478.2,66.2 486.6,68 491.4,64.6 483.1,63" fill="#ff0000" stroke="#111" stroke-width="0.7" stroke-linejoin="round"/>
<polygon points="585.9,68.4 594.6,70.5 598.7,67.2 589.9,65.3" fill="#ff0000" stroke="#111" stroke-width="0.7" stroke-linejoin="round"/>
<polygon points="443.5,68 451.7,69.9 456.8,66.2 448.6,64.5" fill="#ff0000" stroke="#111" stroke-width="0.7" stroke-linejoin="round"/>
<polygon points="638,72.5 647,74.9 650.6,71.4 641.7,69.2" fill="url(#g117)" stroke="#111" stroke-width="0.7" stroke-linejoin="round"/>
<polygon points="499.7,66.3 508.1,68.2 512.8,64.8 504.4,63.1" fill="#ff0000" stroke="#111" stroke-width="0.7" stroke-linejoin="round"/>
<polygon points="564.3,67.7 573,69.7 577.2,66.4 568.5,64.5" fill="#ff0000" stroke="#111" stroke-width="0.7" stroke-linejoin="round"/>
<polygon points="521.2,66.6 529.7,68.6 534.2,65.2 525.8,63.5" fill="#ff0000" stroke="#111" stroke-width="0.7" stroke-linejoin="round"/>
<polygon points="542.8,67.1 551.4,69.1 555.7,65.7 547.2,63.9" fill="#ff0000" stroke="#111" stroke-width="0.7" stroke-linejoin="round"/>
<polygon points="465,68 473.3,69.9 478.2,66.2 470,64.5" fill="#ff0000" stroke="#111" stroke-width="0.7" stroke-linejoin="round"/>
<polygon points="616.3,71.4 625.2,73.8 629,70.2 620.2,68.1" fill="url(#g123)" stroke="#111" stroke-width="0.7" stroke-linejoin="round"/>
<polygon points="430.1,70 438.3,72 443.5,68 435.4,66.3" fill="#ff0000" stroke="#111" stroke-width="0.7" stroke-linejoin="round"/>
<polygon points="486.6,68 495,70 499.7,66.3 491.4,64.6" fill="#ff0000" stroke="#111" stroke-width="0.7" stroke-linejoin="round"/>
<polygon points="594.6,70.5 603.5,72.8 607.4,69.2 598.7,67.2" fill="#ff0000" stroke="#111" stroke-width="0.7" stroke-linejoin="round"/>
<polygon points="508.1,68.2 516.6,70.3 521.2,66.6 512.8,64.8" fill="#ff0000" stroke="#111" stroke-width="0.7" stroke-linejoin="round"/>
<polygon points="573,69.7 581.7,71.9 585.9,68.4 577.2,66.4" fill="#ff0000" stroke="#111" stroke-width="0.7" stroke-linejoin="round"/>
<polygon points="451.7,69.9 460,71.9 465,68 456.8,66.2" fill="#ff0000" stroke="#111" stroke-width="0.7" stroke-linejoin="round"/>
<polygon points="529.7,68.6 538.3,70.7 542.8,67.1 534.2,65.2" fill="#ff0000" stroke="#111" stroke-width="0.7" stroke-linejoin="round"/>
<polygon points="551.4,69.1 560,71.3 564.3,67.7 555.7,65.7" fill="#ff0000" stroke="#111" stroke-width="0.7" stroke-linejoin="round"/>
<polygon points="625.2,73.8 634.2,76.3 638,72.5 629,70.2" fill="url(#g132)" stroke="#111" stroke-width="0.7" stroke-linejoin="round"/>
<polygon points="473.3,69.9 481.7,71.9 486.6,68 478.2,66.2" fill="#ff0000" stroke="#111" stroke-width="0.7" stroke-linejoin="round"/>
<polygon points="603.5,72.8 612.4,75.2 616.3,71.4 607.4,69.2" fill="url(#g134)" stroke="#111" stroke-width="0.7" stroke-linejoin="round"/>
<polygon points="438.3,72 446.6,74.1 451.7,69.9 443.5,68" fill="#ff0000" stroke="#111" stroke-width="0.7" stroke-linejoin="round"/>
<polygon points="495,70 503.4,72.1 508.1,68.2 499.7,66.3" fill="#ff0000" stroke="#111" stroke-width="0.7" stroke-linejoin="round"/>
<polygon points="581.7,71.9 590.5,74.3 594.6,70.5 585.9,68.4" fill="#ff0000" stroke="#111" stroke-width="0.7" stroke-linejoin="round"/>
<polygon points="634.2,76.3 643.2,78.9 647,74.9 638,72.5" fill="url(#g138)" stroke="#111" stroke-width="0.7" stroke-linejoin="round"/>
<polygon points="516.6,70.3 525.2,72.5 529.7,68.6 521.2,66.6" fill="#ff0000" stroke="#111" stroke-width="0.7" stroke-linejoin="round"/>
<polygon points="560,71.3 568.7,73.6 573,69.7 564.3,67.7" fill="#ff0000" stroke="#111" stroke-width="0.7" stroke-linejoin="round"/>
<polygon points="538.3,70.7 547,72.9 551.4,69.1 542.8,67.1" fill="#ff0000" stroke="#111" stroke-width="0.7" stroke-linejoin="round"/>
<polygon points="460,71.9 468.3,74 473.3,69.9 465,68" fill="#ff0000" stroke="#111" stroke-width="0.7" stroke-linejoin="round"/>
<polygon points="424.9,74.3 433.1,76.4 438.3,72 430.1,70" fill="url(#g143)" stroke="#111" stroke-width="0.7" stroke-linejoin="round"/>
<polygon points="612.4,75.2 621.3,77.8 625.2,73.8 616.3,71.4" fill="url(#g144)" stroke="#111" stroke-width="0.7" stroke-linejoin="round"/>
<polygon points="481.7,71.9 490.1,74.2 495,70 486.6,68" fill="#ff0000" stroke="#111" stroke-width="0.7" stroke-linejoin="round"/>
<polygon points="590.5,74.3 599.4,76.8 603.5,72.8 594.6,70.5" fill="url(#g146)" stroke="#111" stroke-width="0.7" stroke-linejoin="round"/>
<polygon points="446.6,74.1 454.9,76.3 460,71.9 451.7,69.9" fill="url(#g147)" stroke="#111" stroke-width="0.7" stroke-linejoin="round"/>
<polygon points="503.4,72.1 512,74.4 516.6,70.3 508.1,68.2" fill="#ff0000" stroke="#111" stroke-width="0.7" stroke-linejoin="round"/>
<polygon points="568.7,73.6 577.5,76 581.7,71.9 573,69.7" fill="url(#g149)" stroke="#111" stroke-width="0.7" stroke-linejoin="round"/>
<polygon points="525.2,72.5 533.8,74.8 538.3,70.7 529.7,68.6" fill="#ff0000" stroke="#111" stroke-width="0.7" stroke-linejoin="round"/>
<polygon points="547,72.9 555.7,75.3 560,71.3 551.4,69.1" fill="#ff0000" stroke="#111" stroke-width="0.7" stroke-linejoin="round"/>
<polygon points="621.3,77.8 630.3,80.5 634.2,76.3 625.2,73.8" fill="url(#g152)" stroke="#111" stroke-width="0.7" stroke-linejoin="round"/>
<polygon points="468.3,74 476.8,76.3 481.7,71.9 473.3,69.9" fill="url(#g153)" stroke="#111" stroke-width="0.7" stroke-linejoin="round"/>
<polygon points="433.1,76.4 441.4,78.8 446.6,74.1 438.3,72" fill="url(#g154)" stroke="#111" stroke-width="0.7" stroke-linejoin="round"/>
<polygon points="599.4,76.8 608.4,79.5 612.4,75.2 603.5,72.8" fill="url(#g155)" stroke="#111" stroke-width="0.7" stroke-linejoin="round"/>
<polygon points="490.1,74.2 498.6,76.5 503.4,72.1 495,70" fill="url(#g156)" stroke="#111" stroke-width="0.7" stroke-linejoin="round"/>
<polygon points="577.5,76 586.4,78.6 590.5,74.3 581.7,71.9" fill="url(#g157)" stroke="#111" stroke-width="0.7" stroke-linejoin="round"/>
<polygon points="630.3,80.5 639.4,83.4 643.2,78.9 634.2,76.3" fill="url(#g158)" stroke="#111" stroke-width="0.7" stroke-linejoin="round"/>
<polygon points="512,74.4 520.6,76.8 525.2,72.5 516.6,70.3" fill="url(#g159)" stroke="#111" stroke-width="0.7" stroke-linejoin="round"/>
<polygon points="555.7,75.3 564.4,77.9 568.7,73.6 560,71.3" fill="url(#g160)" stroke="#111" stroke-width="0.7" stroke-linejoin="round"/>
<polygon points="419.5,79 427.8,81.4 433.1,76.4 424.9,74.3" fill="url(#g161)" stroke="#111" stroke-width="0.7" stroke-linejoin="round"/>
<polygon points="454.9,76.3 463.3,78.7 468.3,74 460,71.9" fill="url(#g162)" stroke="#111" stroke-width="0.7" stroke-linejoin="round"/>
<polygon points="533.8,74.8 542.5,77.3 547,72.9 538.3,70.7" fill="url(#g163)" stroke="#111" stroke-width="0.7" stroke-linejoin="round"/>
<polygon points="608.4,79.5 617.4,82.3 621.3,77.8 612.4,75.2" fill="url(#g164)" stroke="#111" stroke-width="0.7" stroke-linejoin="round"/>
<polygon points="476.8,76.3 485.2,78.8 490.1,74.2 481.7,71.9" fill="url(#g165)" stroke="#111" stroke-width="0.7" stroke-linejoin="round"/>
<polygon points="441.4,78.8 449.8,81.2 454.9,76.3 446.6,74.1" fill="url(#g166)" stroke="#111" stroke-width="0.7" stroke-linejoin="round"/>
<polygon points="586.4,78.6 595.3,81.3 599.4,76.8 590.5,74.3" fill="url(#g167)" stroke="#111" stroke-width="0.7" stroke-linejoin="round"/>
<polygon points="498.6,76.5 507.2,79 512,74.4 503.4,72.1" fill="url(#g168)" stroke="#111" stroke-width="0.7" stroke-linejoin="round"/>
<polygon points="564.4,77.9 573.3,80.5 577.5,76 568.7,73.6" fill="url(#g169)" stroke="#111" stroke-width="0.7" stroke-linejoin="round"/>
<polygon points="520.6,76.8 529.2,79.4 533.8,74.8 525.2,72.5" fill="url(#g170)" stroke="#111" stroke-width="0.7" stroke-linejoin="round"/>
<polygon points="542.5,77.3 551.2,79.9 555.7,75.3 547,72.9" fill="url(#g171)" stroke="#111" stroke-width="0.7" stroke-linejoin="round"/>
<polygon points="617.4,82.3 626.4,85.2 630.3,80.5 621.3,77.8" fill="url(#g172)" stroke="#111" stroke-width="0.7" stroke-linejoin="round"/>
<polygon points="463.3,78.7 471.8,81.2 476.8,76.3 468.3,74" fill="url(#g173)" stroke="#111" stroke-width="0.7" stroke-linejoin="round"/>
<polygon points="427.8,81.4 436.1,84 441.4,78.8 433.1,76.4" fill="url(#g174)" stroke="#111" stroke-width="0.7" stroke-linejoin="round"/>
<polygon points="595.3,81.3 604.3,84.2 608.4,79.5 599.4,76.8" fill="url(#g175)" stroke="#111" stroke-width="0.7" stroke-linejoin="round"/>
<polygon points="485.2,78.8 493.8,81.4 498.6,76.5 490.1,74.2" fill="url(#g176)" stroke="#111" stroke-width="0.7" stroke-linejoin="round"/>
<polygon points="414.1,84.2 422.4,86.8 427.8,81.4 419.5,79" fill="url(#g177)" stroke="#111" stroke-width="0.7" stroke-linejoin="round"/>
<polygon points="573.3,80.5 582.2,83.4 586.4,78.6 577.5,76" fill="url(#g178)" stroke="#111" stroke-width="0.7" stroke-linejoin="round"/>
<polygon points="507.2,79 515.9,81.7 520.6,76.8 512,74.4" fill="url(#g179)" stroke="#111" stroke-width="0.7" stroke-linejoin="round"/>
<polygon points="449.8,81.2 458.2,83.9 463.3,78.7 454.9,76.3" fill="url(#g180)" stroke="#111" stroke-width="0.7" stroke-linejoin="round"/>
<polygon points="626.4,85.2 635.6,88.3 639.4,83.4 630.3,80.5" fill="url(#g181)" stroke="#111" stroke-width="0.7" stroke-linejoin="round"/>
<polygon points="551.2,79.9 560,82.7 564.4,77.9 555.7,75.3" fill="url(#g182)" stroke="#111" stroke-width="0.7" stroke-linejoin="round"/>
<polygon points="529.2,79.4 537.9,82.1 542.5,77.3 533.8,74.8" fill="url(#g183)" stroke="#111" stroke-width="0.7" stroke-linejoin="round"/>
<polygon points="471.8,81.2 480.3,83.9 485.2,78.8 476.8,76.3" fill="url(#g184)" stroke="#111" stroke-width="0.7" stroke-linejoin="round"/>
<polygon points="604.3,84.2 613.3,87.3 617.4,82.3 608.4,79.5" fill="url(#g185)" stroke="#111" stroke-width="0.7" stroke-linejoin="round"/>
<polygon points="436.1,84 444.5,86.7 449.8,81.2 441.4,78.8" fill="url(#g186)" stroke="#111" stroke-width="0.7" stroke-linejoin="round"/>
<polygon points="493.8,81.4 502.4,84.1 507.2,79 498.6,76.5" fill="url(#g187)" stroke="#111" stroke-width="0.7" stroke-linejoin="round"/>
<polygon points="582.2,83.4 591.1,86.3 595.3,81.3 586.4,78.6" fill="url(#g188)" stroke="#111" stroke-width="0.7" stroke-linejoin="round"/>
<polygon points="515.9,81.7 524.6,84.5 529.2,79.4 520.6,76.8" fill="url(#g189)" stroke="#111" stroke-width="0.7" stroke-linejoin="round"/>
<polygon points="560,82.7 568.9,85.6 573.3,80.5 564.4,77.9" fill="url(#g190)" stroke="#111" stroke-width="0.7" stroke-linejoin="round"/>
<polygon points="537.9,82.1 546.7,84.9 551.2,79.9 542.5,77.3" fill="url(#g191)" stroke="#111" stroke-width="0.7" stroke-linejoin="round"/>
<polygon points="422.4,86.8 430.8,89.6 436.1,84 427.8,81.4" fill="url(#g192)" stroke="#111" stroke-width="0.7" stroke-linejoin="round"/>
<polygon points="458.2,83.9 466.7,86.6 471.8,81.2 463.3,78.7" fill="url(#g193)" stroke="#111" stroke-width="0.7" stroke-linejoin="round"/>
<polygon points="613.3,87.3 622.4,90.4 626.4,85.2 617.4,82.3" fill="url(#g194)" stroke="#111" stroke-width="0.7" stroke-linejoin="round"/>
<polygon points="480.3,83.9 488.9,86.7 493.8,81.4 485.2,78.8" fill="url(#g195)" stroke="#111" stroke-width="0.7" stroke-linejoin="round"/>
<polygon points="408.6,89.9 417,92.8 422.4,86.8 414.1,84.2" fill="url(#g196)" stroke="#111" stroke-width="0.7" stroke-linejoin="round"/>
<polygon points="591.1,86.3 600.1,89.5 604.3,84.2 595.3,81.3" fill="url(#g197)" stroke="#111" stroke-width="0.7" stroke-linejoin="round"/>
<polygon points="444.5,86.7 453,89.5 458.2,83.9 449.8,81.2" fill="url(#g198)" stroke="#111" stroke-width="0.7" stroke-linejoin="round"/>
<polygon points="502.4,84.1 511.1,87 515.9,81.7 507.2,79" fill="url(#g199)" stroke="#111" stroke-width="0.7" stroke-linejoin="round"/>
<polygon points="568.9,85.6 577.9,88.6 582.2,83.4 573.3,80.5" fill="url(#g200)" stroke="#111" stroke-width="0.7" stroke-linejoin="round"/>
<polygon points="524.6,84.5 533.3,87.4 537.9,82.1 529.2,79.4" fill="url(#g201)" stroke="#111" stroke-width="0.7" stroke-linejoin="round"/>
<polygon points="546.7,84.9 555.6,87.9 560,82.7 551.2,79.9" fill="url(#g202)" stroke="#111" stroke-width="0.7" stroke-linejoin="round"/>
<polygon points="622.4,90.4 631.6,93.8 635.6,88.3 626.4,85.2" fill="url(#g203)" stroke="#111" stroke-width="0.7" stroke-linejoin="round"/>
<polygon points="466.7,86.6 475.3,89.5 480.3,83.9 471.8,81.2" fill="url(#g204)" stroke="#111" stroke-width="0.7" stroke-linejoin="round"/>
<polygon points="430.8,89.6 439.3,92.6 444.5,86.7 436.1,84" fill="url(#g205)" stroke="#111" stroke-width="0.7" stroke-linejoin="round"/>
<polygon points="600.1,89.5 609.2,92.7 613.3,87.3 604.3,84.2" fill="url(#g206)" stroke="#111" stroke-width="0.7" stroke-linejoin="round"/>
<polygon points="488.9,86.7 497.5,89.7 502.4,84.1 493.8,81.4" fill="url(#g207)" stroke="#111" stroke-width="0.7" stroke-linejoin="round"/>
<polygon points="577.9,88.6 586.9,91.9 591.1,86.3 582.2,83.4" fill="url(#g208)" stroke="#111" stroke-width="0.7" stroke-linejoin="round"/>
<polygon points="417,92.8 425.4,95.8 430.8,89.6 422.4,86.8" fill="url(#g209)" stroke="#111" stroke-width="0.7" stroke-linejoin="round"/>
<polygon points="511.1,87 519.8,90 524.6,84.5 515.9,81.7" fill="url(#g210)" stroke="#111" stroke-width="0.7" stroke-linejoin="round"/>
<polygon points="453,89.5 461.6,92.5 466.7,86.6 458.2,83.9" fill="url(#g211)" stroke="#111" stroke-width="0.7" stroke-linejoin="round"/>
<polygon points="555.6,87.9 564.5,91.1 568.9,85.6 560,82.7" fill="url(#g212)" stroke="#111" stroke-width="0.7" stroke-linejoin="round"/>
<polygon points="533.3,87.4 542.2,90.5 546.7,84.9 537.9,82.1" fill="url(#g213)" stroke="#111" stroke-width="0.7" stroke-linejoin="round"/>
<polygon points="403.1,96.1 411.5,99.3 417,92.8 408.6,89.9" fill="url(#g214)" stroke="#111" stroke-width="0.7" stroke-linejoin="round"/>
<polygon points="609.2,92.7 618.4,96.2 622.4,90.4 613.3,87.3" fill="url(#g215)" stroke="#111" stroke-width="0.7" stroke-linejoin="round"/>
<polygon points="475.3,89.5 483.9,92.6 488.9,86.7 480.3,83.9" fill="url(#g216)" stroke="#111" stroke-width="0.7" stroke-linejoin="round"/>
<polygon points="439.3,92.6 447.8,95.7 453,89.5 444.5,86.7" fill="url(#g217)" stroke="#111" stroke-width="0.7" stroke-linejoin="round"/>
<polygon points="586.9,91.9 595.9,95.2 600.1,89.5 591.1,86.3" fill="url(#g218)" stroke="#111" stroke-width="0.7" stroke-linejoin="round"/>
<polygon points="497.5,89.7 506.3,92.8 511.1,87 502.4,84.1" fill="url(#g219)" stroke="#111" stroke-width="0.7" stroke-linejoin="round"/>
<polygon points="564.5,91.1 573.5,94.4 577.9,88.6 568.9,85.6" fill="url(#g220)" stroke="#111" stroke-width="0.7" stroke-linejoin="round"/>
<polygon points="519.8,90 528.7,93.2 533.3,87.4 524.6,84.5" fill="url(#g221)" stroke="#111" stroke-width="0.7" stroke-linejoin="round"/>
<polygon points="542.2,90.5 551.1,93.7 555.6,87.9 546.7,84.9" fill="url(#g222)" stroke="#111" stroke-width="0.7" stroke-linejoin="round"/>
<polygon points="425.4,95.8 433.9,99 439.3,92.6 430.8,89.6" fill="url(#g223)" stroke="#111" stroke-width="0.7" stroke-linejoin="round"/>
<polygon points="618.4,96.2 627.6,99.8 631.6,93.8 622.4,90.4" fill="url(#g224)" stroke="#111" stroke-width="0.7" stroke-linejoin="round"/>
<polygon points="461.6,92.5 470.2,95.7 475.3,89.5 466.7,86.6" fill="url(#g225)" stroke="#111" stroke-width="0.7" stroke-linejoin="round"/>
<polygon points="595.9,95.2 605.1,98.7 609.2,92.7 600.1,89.5" fill="url(#g226)" stroke="#111" stroke-width="0.7" stroke-linejoin="round"/>
<polygon points="483.9,92.6 492.6,95.8 497.5,89.7 488.9,86.7" fill="url(#g227)" stroke="#111" stroke-width="0.7" stroke-linejoin="round"/>
<polygon points="411.5,99.3 420,102.5 425.4,95.8 417,92.8" fill="url(#g228)" stroke="#111" stroke-width="0.7" stroke-linejoin="round"/>
<polygon points="447.8,95.7 456.4,98.9 461.6,92.5 453,89.5" fill="url(#g229)" stroke="#111" stroke-width="0.7" stroke-linejoin="round"/>
<polygon points="573.5,94.4 582.5,97.9 586.9,91.9 577.9,88.6" fill="url(#g230)" stroke="#111" stroke-width="0.7" stroke-linejoin="round"/>
<polygon points="506.3,92.8 515.1,96.1 519.8,90 511.1,87" fill="url(#g231)" stroke="#111" stroke-width="0.7" stroke-linejoin="round"/>
<polygon points="551.1,93.7 560,97.1 564.5,91.1 555.6,87.9" fill="url(#g232)" stroke="#111" stroke-width="0.7" stroke-linejoin="round"/>
<polygon points="528.7,93.2 537.5,96.6 542.2,90.5 533.3,87.4" fill="url(#g233)" stroke="#111" stroke-width="0.7" stroke-linejoin="round"/>
<polygon points="397.5,102.9 406,106.2 411.5,99.3 403.1,96.1" fill="url(#g234)" stroke="#111" stroke-width="0.7" stroke-linejoin="round"/>
<polygon points="470.2,95.7 478.9,99 483.9,92.6 475.3,89.5" fill="url(#g235)" stroke="#111" stroke-width="0.7" stroke-linejoin="round"/>
<polygon points="433.9,99 442.5,102.4 447.8,95.7 439.3,92.6" fill="url(#g236)" stroke="#111" stroke-width="0.7" stroke-linejoin="round"/>
<polygon points="605.1,98.7 614.3,102.4 618.4,96.2 609.2,92.7" fill="url(#g237)" stroke="#111" stroke-width="0.7" stroke-linejoin="round"/>
<polygon points="492.6,95.8 501.4,99.2 506.3,92.8 497.5,89.7" fill="url(#g238)" stroke="#111" stroke-width="0.7" stroke-linejoin="round"/>
<polygon points="582.5,97.9 591.7,101.5 595.9,95.2 586.9,91.9" fill="url(#g239)" stroke="#111" stroke-width="0.7" stroke-linejoin="round"/>
<polygon points="420,102.5 428.6,106 433.9,99 425.4,95.8" fill="url(#g240)" stroke="#111" stroke-width="0.7" stroke-linejoin="round"/>
<polygon points="515.1,96.1 523.9,99.6 528.7,93.2 519.8,90" fill="url(#g241)" stroke="#111" stroke-width="0.7" stroke-linejoin="round"/>
<polygon points="560,97.1 569.1,100.7 573.5,94.4 564.5,91.1" fill="url(#g242)" stroke="#111" stroke-width="0.7" stroke-linejoin="round"/>
<polygon points="456.4,98.9 465.1,102.4 470.2,95.7 461.6,92.5" fill="url(#g243)" stroke="#111" stroke-width="0.7" stroke-linejoin="round"/>
<polygon points="537.5,96.6 546.5,100.1 551.1,93.7 542.2,90.5" fill="url(#g244)" stroke="#111" stroke-width="0.7" stroke-linejoin="round"/>
<polygon points="614.3,102.4 623.5,106.3 627.6,99.8 618.4,96.2" fill="url(#g245)" stroke="#111" stroke-width="0.7" stroke-linejoin="round"/>
<polygon points="406,106.2 414.5,109.8 420,102.5 411.5,99.3" fill="url(#g246)" stroke="#111" stroke-width="0.7" stroke-linejoin="round"/>
<polygon points="478.9,99 487.6,102.5 492.6,95.8 483.9,92.6" fill="url(#g247)" stroke="#111" stroke-width="0.7" stroke-linejoin="round"/>
<polygon points="442.5,102.4 451.1,105.9 456.4,98.9 447.8,95.7" fill="url(#g248)" stroke="#111" stroke-width="0.7" stroke-linejoin="round"/>
<polygon points="591.7,101.5 600.8,105.3 605.1,98.7 595.9,95.2" fill="url(#g249)" stroke="#111" stroke-width="0.7" stroke-linejoin="round"/>
<polygon points="391.9,110.1 400.4,113.8 406,106.2 397.5,102.9" fill="url(#g250)" stroke="#111" stroke-width="0.7" stroke-linejoin="round"/>
<polygon points="501.4,99.2 510.2,102.7 515.1,96.1 506.3,92.8" fill="url(#g251)" stroke="#111" stroke-width="0.7" stroke-linejoin="round"/>
<polygon points="569.1,100.7 578.1,104.4 582.5,97.9 573.5,94.4" fill="url(#g252)" stroke="#111" stroke-width="0.7" stroke-linejoin="round"/>
<polygon points="523.9,99.6 532.8,103.2 537.5,96.6 528.7,93.2" fill="url(#g253)" stroke="#111" stroke-width="0.7" stroke-linejoin="round"/>
<polygon points="546.5,100.1 555.5,103.7 560,97.1 551.1,93.7" fill="url(#g254)" stroke="#111" stroke-width="0.7" stroke-linejoin="round"/>
<polygon points="428.6,106 437.2,109.6 442.5,102.4 433.9,99" fill="url(#g255)" stroke="#111" stroke-width="0.7" stroke-linejoin="round"/>
<polygon points="465.1,102.4 473.8,105.9 478.9,99 470.2,95.7" fill="url(#g256)" stroke="#111" stroke-width="0.7" stroke-linejoin="round"/>
<polygon points="600.8,105.3 610.1,109.2 614.3,102.4 605.1,98.7" fill="url(#g257)" stroke="#111" stroke-width="0.7" stroke-linejoin="round"/>
<polygon points="487.6,102.5 496.4,106.1 501.4,99.2 492.6,95.8" fill="url(#g258)" stroke="#111" stroke-width="0.7" stroke-linejoin="round"/>
<polygon points="414.5,109.8 423.1,113.5 428.6,106 420,102.5" fill="url(#g259)" stroke="#111" stroke-width="0.7" stroke-linejoin="round"/>
<polygon points="578.1,104.4 587.3,108.3 591.7,101.5 582.5,97.9" fill="url(#g260)" stroke="#111" stroke-width="0.7" stroke-linejoin="round"/>
<polygon points="451.1,105.9 459.9,109.5 465.1,102.4 456.4,98.9" fill="url(#g261)" stroke="#111" stroke-width="0.7" stroke-linejoin="round"/>
<polygon points="510.2,102.7 519.1,106.4 523.9,99.6 515.1,96.1" fill="url(#g262)" stroke="#111" stroke-width="0.7" stroke-linejoin="round"/>
<polygon points="555.5,103.7 564.6,107.5 569.1,100.7 560,97.1" fill="url(#g263)" stroke="#111" stroke-width="0.7" stroke-linejoin="round"/>
<polygon points="532.8,103.2 541.8,106.9 546.5,100.1 537.5,96.6" fill="url(#g264)" stroke="#111" stroke-width="0.7" stroke-linejoin="round"/>
<polygon points="400.4,113.8 409,117.6 414.5,109.8 406,106.2" fill="url(#g265)" stroke="#111" stroke-width="0.7" stroke-linejoin="round"/>
<polygon points="610.1,109.2 619.4,113.3 623.5,106.3 614.3,102.4" fill="url(#g266)" stroke="#111" stroke-width="0.7" stroke-linejoin="round"/>
<polygon points="473.8,105.9 482.6,109.6 487.6,102.5 478.9,99" fill="url(#g267)" stroke="#111" stroke-width="0.7" stroke-linejoin="round"/>
<polygon points="386.2,117.9 394.8,121.8 400.4,113.8 391.9,110.1" fill="url(#g268)" stroke="#111" stroke-width="0.7" stroke-linejoin="round"/>
<polygon points="437.2,109.6 445.8,113.3 451.1,105.9 442.5,102.4" fill="url(#g269)" stroke="#111" stroke-width="0.7" stroke-linejoin="round"/>
<polygon points="587.3,108.3 596.5,112.3 600.8,105.3 591.7,101.5" fill="url(#g270)" stroke="#111" stroke-width="0.7" stroke-linejoin="round"/>
<polygon points="496.4,106.1 505.3,109.9 510.2,102.7 501.4,99.2" fill="url(#g271)" stroke="#111" stroke-width="0.7" stroke-linejoin="round"/>
<polygon points="564.6,107.5 573.7,111.5 578.1,104.4 569.1,100.7" fill="url(#g272)" stroke="#111" stroke-width="0.7" stroke-linejoin="round"/>
<polygon points="423.1,113.5 431.8,117.3 437.2,109.6 428.6,106" fill="url(#g273)" stroke="#111" stroke-width="0.7" stroke-linejoin="round"/>
<polygon points="519.1,106.4 528.1,110.3 532.8,103.2 523.9,99.6" fill="url(#g274)" stroke="#111" stroke-width="0.7" stroke-linejoin="round"/>
<polygon points="541.8,106.9 550.9,110.8 555.5,103.7 546.5,100.1" fill="url(#g275)" stroke="#111" stroke-width="0.7" stroke-linejoin="round"/>
<polygon points="459.9,109.5 468.6,113.4 473.8,105.9 465.1,102.4" fill="url(#g276)" stroke="#111" stroke-width="0.7" stroke-linejoin="round"/>
<polygon points="409,117.6 417.6,121.5 423.1,113.5 414.5,109.8" fill="url(#g277)" stroke="#111" stroke-width="0.7" stroke-linejoin="round"/>
<polygon points="596.5,112.3 605.8,116.5 610.1,109.2 600.8,105.3" fill="url(#g278)" stroke="#111" stroke-width="0.7" stroke-linejoin="round"/>
<polygon points="482.6,109.6 491.4,113.5 496.4,106.1 487.6,102.5" fill="url(#g279)" stroke="#111" stroke-width="0.7" stroke-linejoin="round"/>
<polygon points="445.8,113.3 454.6,117.3 459.9,109.5 451.1,105.9" fill="url(#g280)" stroke="#111" stroke-width="0.7" stroke-linejoin="round"/>
<polygon points="394.8,121.8 403.4,125.9 409,117.6 400.4,113.8" fill="url(#g281)" stroke="#111" stroke-width="0.7" stroke-linejoin="round"/>
<polygon points="573.7,111.5 582.9,115.6 587.3,108.3 578.1,104.4" fill="url(#g282)" stroke="#111" stroke-width="0.7" stroke-linejoin="round"/>
<polygon points="505.3,109.9 514.3,113.8 519.1,106.4 510.2,102.7" fill="url(#g283)" stroke="#111" stroke-width="0.7" stroke-linejoin="round"/>
<polygon points="550.9,110.8 560,114.9 564.6,107.5 555.5,103.7" fill="url(#g284)" stroke="#111" stroke-width="0.7" stroke-linejoin="round"/>
<polygon points="528.1,110.3 537.1,114.3 541.8,106.9 532.8,103.2" fill="url(#g285)" stroke="#111" stroke-width="0.7" stroke-linejoin="round"/>
<polygon points="431.8,117.3 440.5,121.3 445.8,113.3 437.2,109.6" fill="url(#g286)" stroke="#111" stroke-width="0.7" stroke-linejoin="round"/>
<polygon points="468.6,113.4 477.5,117.3 482.6,109.6 473.8,105.9" fill="url(#g287)" stroke="#111" stroke-width="0.7" stroke-linejoin="round"/>
<polygon points="605.8,116.5 615.1,120.8 619.4,113.3 610.1,109.2" fill="url(#g288)" stroke="#111" stroke-width="0.7" stroke-linejoin="round"/>
<polygon points="491.4,113.5 500.3,117.6 505.3,109.9 496.4,106.1" fill="url(#g289)" stroke="#111" stroke-width="0.7" stroke-linejoin="round"/>
<polygon points="417.6,121.5 426.3,125.6 431.8,117.3 423.1,113.5" fill="url(#g290)" stroke="#111" stroke-width="0.7" stroke-linejoin="round"/>
<polygon points="582.9,115.6 592.1,119.9 596.5,112.3 587.3,108.3" fill="url(#g291)" stroke="#111" stroke-width="0.7" stroke-linejoin="round"/>
<polygon points="454.6,117.3 463.4,121.3 468.6,113.4 459.9,109.5" fill="url(#g292)" stroke="#111" stroke-width="0.7" stroke-linejoin="round"/>
<polygon points="514.3,113.8 523.3,117.9 528.1,110.3 519.1,106.4" fill="url(#g293)" stroke="#111" stroke-width="0.7" stroke-linejoin="round"/>
<polygon points="560,114.9 569.2,119.1 573.7,111.5 564.6,107.5" fill="url(#g294)" stroke="#111" stroke-width="0.7" stroke-linejoin="round"/>
<polygon points="537.1,114.3 546.2,118.4 550.9,110.8 541.8,106.9" fill="url(#g295)" stroke="#111" stroke-width="0.7" stroke-linejoin="round"/>
<polygon points="403.4,125.9 412,130.1 417.6,121.5 409,117.6" fill="url(#g296)" stroke="#111" stroke-width="0.7" stroke-linejoin="round"/>
<polygon points="477.5,117.3 486.4,121.5 491.4,113.5 482.6,109.6" fill="url(#g297)" stroke="#111" stroke-width="0.7" stroke-linejoin="round"/>
<polygon points="440.5,121.3 449.3,125.5 454.6,117.3 445.8,113.3" fill="url(#g298)" stroke="#111" stroke-width="0.7" stroke-linejoin="round"/>
<polygon points="592.1,119.9 601.5,124.3 605.8,116.5 596.5,112.3" fill="url(#g299)" stroke="#111" stroke-width="0.7" stroke-linejoin="round"/>
<polygon points="500.3,117.6 509.3,121.7 514.3,113.8 505.3,109.9" fill="url(#g300)" stroke="#111" stroke-width="0.7" stroke-linejoin="round"/>
<polygon points="569.2,119.1 578.4,123.5 582.9,115.6 573.7,111.5" fill="url(#g301)" stroke="#111" stroke-width="0.7" stroke-linejoin="round"/>
<polygon points="426.3,125.6 435.1,129.9 440.5,121.3 431.8,117.3" fill="url(#g302)" stroke="#111" stroke-width="0.7" stroke-linejoin="round"/>
<polygon points="523.3,117.9 532.3,122.2 537.1,114.3 528.1,110.3" fill="url(#g303)" stroke="#111" stroke-width="0.7" stroke-linejoin="round"/>
<polygon points="546.2,118.4 555.4,122.7 560,114.9 550.9,110.8" fill="url(#g304)" stroke="#111" stroke-width="0.7" stroke-linejoin="round"/>
<polygon points="463.4,121.3 472.3,125.6 477.5,117.3 468.6,113.4" fill="url(#g305)" stroke="#111" stroke-width="0.7" stroke-linejoin="round"/>
<polygon points="601.5,124.3 610.8,129 615.1,120.8 605.8,116.5" fill="url(#g306)" stroke="#111" stroke-width="0.7" stroke-linejoin="round"/>
<polygon points="412,130.1 420.8,134.5 426.3,125.6 417.6,121.5" fill="url(#g307)" stroke="#111" stroke-width="0.7" stroke-linejoin="round"/>
<polygon points="486.4,121.5 495.3,125.8 500.3,117.6 491.4,113.5" fill="url(#g308)" stroke="#111" stroke-width="0.7" stroke-linejoin="round"/>
<polygon points="449.3,125.5 458.1,129.9 463.4,121.3 454.6,117.3" fill="url(#g309)" stroke="#111" stroke-width="0.7" stroke-linejoin="round"/>
<polygon points="578.4,123.5 587.7,128 592.1,119.9 582.9,115.6" fill="url(#g310)" stroke="#111" stroke-width="0.7" stroke-linejoin="round"/>
<polygon points="509.3,121.7 518.4,126.1 523.3,117.9 514.3,113.8" fill="url(#g311)" stroke="#111" stroke-width="0.7" stroke-linejoin="round"/>
<polygon points="555.4,122.7 564.6,127.2 569.2,119.1 560,114.9" fill="url(#g312)" stroke="#111" stroke-width="0.7" stroke-linejoin="round"/>
<polygon points="532.3,122.2 541.5,126.6 546.2,118.4 537.1,114.3" fill="url(#g313)" stroke="#111" stroke-width="0.7" stroke-linejoin="round"/>
<polygon points="435.1,129.9 443.9,134.3 449.3,125.5 440.5,121.3" fill="url(#g314)" stroke="#111" stroke-width="0.7" stroke-linejoin="round"/>
<polygon points="472.3,125.6 481.2,130 486.4,121.5 477.5,117.3" fill="url(#g315)" stroke="#111" stroke-width="0.7" stroke-linejoin="round"/>
<polygon points="587.7,128 597.1,132.7 601.5,124.3 592.1,119.9" fill="url(#g316)" stroke="#111" stroke-width="0.7" stroke-linejoin="round"/>
<polygon points="420.8,134.5 429.6,139 435.1,129.9 426.3,125.6" fill="url(#g317)" stroke="#111" stroke-width="0.7" stroke-linejoin="round"/>
<polygon points="495.3,125.8 504.3,130.2 509.3,121.7 500.3,117.6" fill="url(#g318)" stroke="#111" stroke-width="0.7" stroke-linejoin="round"/>
<polygon points="564.6,127.2 573.9,131.9 578.4,123.5 569.2,119.1" fill="url(#g319)" stroke="#111" stroke-width="0.7" stroke-linejoin="round"/>
<polygon points="458.1,129.9 467.1,134.4 472.3,125.6 463.4,121.3" fill="url(#g320)" stroke="#111" stroke-width="0.7" stroke-linejoin="round"/>
<polygon points="518.4,126.1 527.5,130.6 532.3,122.2 523.3,117.9" fill="url(#g321)" stroke="#111" stroke-width="0.7" stroke-linejoin="round"/>
<polygon points="541.5,126.6 550.7,131.2 555.4,122.7 546.2,118.4" fill="url(#g322)" stroke="#111" stroke-width="0.7" stroke-linejoin="round"/>
<polygon points="597.1,132.7 606.5,137.6 610.8,129 601.5,124.3" fill="url(#g323)" stroke="#111" stroke-width="0.7" stroke-linejoin="round"/>
<polygon points="481.2,130 490.2,134.5 495.3,125.8 486.4,121.5" fill="url(#g324)" stroke="#111" stroke-width="0.7" stroke-linejoin="round"/>
<polygon points="443.9,134.3 452.8,138.9 458.1,129.9 449.3,125.5" fill="url(#g325)" stroke="#111" stroke-width="0.7" stroke-linejoin="round"/>
<polygon points="573.9,131.9 583.2,136.7 587.7,128 578.4,123.5" fill="url(#g326)" stroke="#111" stroke-width="0.7" stroke-linejoin="round"/>
<polygon points="504.3,130.2 513.4,134.8 518.4,126.1 509.3,121.7" fill="url(#g327)" stroke="#111" stroke-width="0.7" stroke-linejoin="round"/>
<polygon points="429.6,139 438.5,143.7 443.9,134.3 435.1,129.9" fill="url(#g328)" stroke="#111" stroke-width="0.7" stroke-linejoin="round"/>
<polygon points="550.7,131.2 559.9,135.9 564.6,127.2 555.4,122.7" fill="url(#g329)" stroke="#111" stroke-width="0.7" stroke-linejoin="round"/>
<polygon points="527.5,130.6 536.7,135.3 541.5,126.6 532.3,122.2" fill="url(#g330)" stroke="#111" stroke-width="0.7" stroke-linejoin="round"/>
<polygon points="467.1,134.4 476,139 481.2,130 472.3,125.6" fill="url(#g331)" stroke="#111" stroke-width="0.7" stroke-linejoin="round"/>
<polygon points="490.2,134.5 499.3,139.3 504.3,130.2 495.3,125.8" fill="url(#g332)" stroke="#111" stroke-width="0.7" stroke-linejoin="round"/>
<polygon points="583.2,136.7 592.6,141.7 597.1,132.7 587.7,128" fill="url(#g333)" stroke="#111" stroke-width="0.7" stroke-linejoin="round"/>
<polygon points="452.8,138.9 461.8,143.7 467.1,134.4 458.1,129.9" fill="url(#g334)" stroke="#111" stroke-width="0.7" stroke-linejoin="round"/>
<polygon points="513.4,134.8 522.6,139.6 527.5,130.6 518.4,126.1" fill="url(#g335)" stroke="#111" stroke-width="0.7" stroke-linejoin="round"/>
<polygon points="559.9,135.9 569.2,140.8 573.9,131.9 564.6,127.2" fill="url(#g336)" stroke="#111" stroke-width="0.7" stroke-linejoin="round"/>
<polygon points="536.7,135.3 545.9,140.2 550.7,131.2 541.5,126.6" fill="url(#g337)" stroke="#111" stroke-width="0.7" stroke-linejoin="round"/>
<polygon points="438.5,143.7 447.4,148.6 452.8,138.9 443.9,134.3" fill="url(#g338)" stroke="#111" stroke-width="0.7" stroke-linejoin="round"/>
<polygon points="476,139 485.1,143.8 490.2,134.5 481.2,130" fill="url(#g339)" stroke="#111" stroke-width="0.7" stroke-linejoin="round"/>
<polygon points="592.6,141.7 602.1,146.8 606.5,137.6 597.1,132.7" fill="url(#g340)" stroke="#111" stroke-width="0.7" stroke-linejoin="round"/>
<polygon points="499.3,139.3 508.4,144.1 513.4,134.8 504.3,130.2" fill="url(#g341)" stroke="#111" stroke-width="0.7" stroke-linejoin="round"/>
<polygon points="569.2,140.8 578.6,145.9 583.2,136.7 573.9,131.9" fill="url(#g342)" stroke="#111" stroke-width="0.7" stroke-linejoin="round"/>
<polygon points="522.6,139.6 531.8,144.6 536.7,135.3 527.5,130.6" fill="url(#g343)" stroke="#111" stroke-width="0.7" stroke-linejoin="round"/>
<polygon points="461.8,143.7 470.8,148.6 476,139 467.1,134.4" fill="url(#g344)" stroke="#111" stroke-width="0.7" stroke-linejoin="round"/>
<polygon points="545.9,140.2 555.2,145.2 559.9,135.9 550.7,131.2" fill="url(#g345)" stroke="#111" stroke-width="0.7" stroke-linejoin="round"/>
<polygon points="485.1,143.8 494.2,148.8 499.3,139.3 490.2,134.5" fill="url(#g346)" stroke="#111" stroke-width="0.7" stroke-linejoin="round"/>
<polygon points="447.4,148.6 456.4,153.6 461.8,143.7 452.8,138.9" fill="url(#g347)" stroke="#111" stroke-width="0.7" stroke-linejoin="round"/>
<polygon points="578.6,145.9 588.1,151.2 592.6,141.7 583.2,136.7" fill="url(#g348)" stroke="#111" stroke-width="0.7" stroke-linejoin="round"/>
<polygon points="508.4,144.1 517.6,149.2 522.6,139.6 513.4,134.8" fill="url(#g349)" stroke="#111" stroke-width="0.7" stroke-linejoin="round"/>
<polygon points="555.2,145.2 564.6,150.4 569.2,140.8 559.9,135.9" fill="url(#g350)" stroke="#111" stroke-width="0.7" stroke-linejoin="round"/>
<polygon points="531.8,144.6 541.1,149.7 545.9,140.2 536.7,135.3" fill="url(#g351)" stroke="#111" stroke-width="0.7" stroke-linejoin="round"/>
<polygon points="470.8,148.6 479.9,153.7 485.1,143.8 476,139" fill="url(#g352)" stroke="#111" stroke-width="0.7" stroke-linejoin="round"/>
<polygon points="588.1,151.2 597.6,156.6 602.1,146.8 592.6,141.7" fill="url(#g353)" stroke="#111" stroke-width="0.7" stroke-linejoin="round"/>
<polygon points="494.2,148.8 503.4,154 508.4,144.1 499.3,139.3" fill="url(#g354)" stroke="#111" stroke-width="0.7" stroke-linejoin="round"/>
<polygon points="456.4,153.6 465.5,158.8 470.8,148.6 461.8,143.7" fill="url(#g355)" stroke="#111" stroke-width="0.7" stroke-linejoin="round"/>
<polygon points="564.6,150.4 574,155.7 578.6,145.9 569.2,140.8" fill="url(#g356)" stroke="#111" stroke-width="0.7" stroke-linejoin="round"/>
<polygon points="517.6,149.2 526.9,154.4 531.8,144.6 522.6,139.6" fill="url(#g357)" stroke="#111" stroke-width="0.7" stroke-linejoin="round"/>
<polygon points="541.1,149.7 550.4,155 555.2,145.2 545.9,140.2" fill="url(#g358)" stroke="#111" stroke-width="0.7" stroke-linejoin="round"/>
<polygon points="479.9,153.7 489,159 494.2,148.8 485.1,143.8" fill="url(#g359)" stroke="#111" stroke-width="0.7" stroke-linejoin="round"/>
<polygon points="574,155.7 583.5,161.2 588.1,151.2 578.6,145.9" fill="url(#g360)" stroke="#111" stroke-width="0.7" stroke-linejoin="round"/>
<polygon points="503.4,154 512.6,159.3 517.6,149.2 508.4,144.1" fill="url(#g361)" stroke="#111" stroke-width="0.7" stroke-linejoin="round"/>
<polygon points="550.4,155 559.8,160.4 564.6,150.4 555.2,145.2" fill="url(#g362)" stroke="#111" stroke-width="0.7" stroke-linejoin="round"/>
<polygon points="526.9,154.4 536.2,159.8 541.1,149.7 531.8,144.6" fill="url(#g363)" stroke="#111" stroke-width="0.7" stroke-linejoin="round"/>
<polygon points="465.5,158.8 474.6,164.2 479.9,153.7 470.8,148.6" fill="url(#g364)" stroke="#111" stroke-width="0.7" stroke-linejoin="round"/>
<polygon points="489,159 498.3,164.4 503.4,154 494.2,148.8" fill="url(#g365)" stroke="#111" stroke-width="0.7" stroke-linejoin="round"/>
<polygon points="583.5,161.2 593,166.9 597.6,156.6 588.1,151.2" fill="url(#g366)" stroke="#111" stroke-width="0.7" stroke-linejoin="round"/>
<polygon points="512.6,159.3 521.9,164.8 526.9,154.4 517.6,149.2" fill="url(#g367)" stroke="#111" stroke-width="0.7" stroke-linejoin="round"/>
<polygon points="559.8,160.4 569.3,166.1 574,155.7 564.6,150.4" fill="url(#g368)" stroke="#111" stroke-width="0.7" stroke-linejoin="round"/>
<polygon points="536.2,159.8 545.6,165.4 550.4,155 541.1,149.7" fill="url(#g369)" stroke="#111" stroke-width="0.7" stroke-linejoin="round"/>
<polygon points="474.6,164.2 483.8,169.7 489,159 479.9,153.7" fill="url(#g370)" stroke="#111" stroke-width="0.7" stroke-linejoin="round"/>
<polygon points="498.3,164.4 507.5,170 512.6,159.3 503.4,154" fill="url(#g371)" stroke="#111" stroke-width="0.7" stroke-linejoin="round"/>
<polygon points="569.3,166.1 578.8,171.8 583.5,161.2 574,155.7" fill="url(#g372)" stroke="#111" stroke-width="0.7" stroke-linejoin="round"/>
<polygon points="521.9,164.8 531.3,170.5 536.2,159.8 526.9,154.4" fill="url(#g373)" stroke="#111" stroke-width="0.7" stroke-linejoin="round"/>
<polygon points="545.6,165.4 555,171.1 559.8,160.4 550.4,155" fill="url(#g374)" stroke="#111" stroke-width="0.7" stroke-linejoin="round"/>
<polygon points="483.8,169.7 493.1,175.4 498.3,164.4 489,159" fill="url(#g375)" stroke="#111" stroke-width="0.7" stroke-linejoin="round"/>
<polygon points="578.8,171.8 588.4,177.8 593,166.9 583.5,161.2" fill="url(#g376)" stroke="#111" stroke-width="0.7" stroke-linejoin="round"/>
<polygon points="507.5,170 516.9,175.8 521.9,164.8 512.6,159.3" fill="url(#g377)" stroke="#111" stroke-width="0.7" stroke-linejoin="round"/>
<polygon points="555,171.1 564.5,177 569.3,166.1 559.8,160.4" fill="url(#g378)" stroke="#111" stroke-width="0.7" stroke-linejoin="round"/>
<polygon points="531.3,170.5 540.7,176.3 545.6,165.4 536.2,159.8" fill="url(#g379)" stroke="#111" stroke-width="0.7" stroke-linejoin="round"/>
<polygon points="493.1,175.4 502.4,181.3 507.5,170 498.3,164.4" fill="url(#g380)" stroke="#111" stroke-width="0.7" stroke-linejoin="round"/>
<polygon points="564.5,177 574.1,183.1 578.8,171.8 569.3,166.1" fill="url(#g381)" stroke="#111" stroke-width="0.7" stroke-linejoin="round"/>
<polygon points="516.9,175.8 526.3,181.7 531.3,170.5 521.9,164.8" fill="url(#g382)" stroke="#111" stroke-width="0.7" stroke-linejoin="round"/>
<polygon points="540.7,176.3 550.2,182.3 555,171.1 545.6,165.4" fill="url(#g383)" stroke="#111" stroke-width="0.7" stroke-linejoin="round"/>
<polygon points="574.1,183.1 583.7,189.3 588.4,177.8 578.8,171.8" fill="url(#g384)" stroke="#111" stroke-width="0.7" stroke-linejoin="round"/>
<polygon points="502.4,181.3 511.8,187.3 516.9,175.8 507.5,170" fill="url(#g385)" stroke="#111" stroke-width="0.7" stroke-linejoin="round"/>
<polygon points="550.2,182.3 559.7,188.5 564.5,177 555,171.1" fill="url(#g386)" stroke="#111" stroke-width="0.7" stroke-linejoin="round"/>
<polygon points="526.3,181.7 535.7,187.8 540.7,176.3 531.3,170.5" fill="url(#g387)" stroke="#111" stroke-width="0.7" stroke-linejoin="round"/>
<polygon points="511.8,187.3 521.2,193.6 526.3,181.7 516.9,175.8" fill="url(#g388)" stroke="#111" stroke-width="0.7" stroke-linejoin="round"/>
<polygon points="559.7,188.5 569.3,194.8 574.1,183.1 564.5,177" fill="url(#g389)" stroke="#111" stroke-width="0.7" stroke-linejoin="round"/>
<polygon points="535.7,187.8 545.2,194.1 550.2,182.3 540.7,176.3" fill="url(#g390)" stroke="#111" stroke-width="0.7" stroke-linejoin="round"/>
<polygon points="569.3,194.8 578.9,201.4 583.7,189.3 574.1,183.1" fill="url(#g391)" stroke="#111" stroke-width="0.7" stroke-linejoin="round"/>
<polygon points="521.2,193.6 530.7,199.9 535.7,187.8 526.3,181.7" fill="url(#g392)" stroke="#111" stroke-width="0.7" stroke-linejoin="round"/>
<polygon points="545.2,194.1 554.8,200.6 559.7,188.5 550.2,182.3" fill="url(#g393)" stroke="#111" stroke-width="0.7" stroke-linejoin="round"/>
<polygon points="554.8,200.6 564.4,207.2 569.3,194.8 559.7,188.5" fill="url(#g394)" stroke="#111" stroke-width="0.7" stroke-linejoin="round"/>
<polygon points="530.7,199.9 540.3,206.5 545.2,194.1 535.7,187.8" fill="url(#g395)" stroke="#111" stroke-width="0.7" stroke-linejoin="round"/>
<polygon points="564.4,207.2 574.1,214 578.9,201.4 569.3,194.8" fill="url(#g396)" stroke="#111" stroke-width="0.7" stroke-linejoin="round"/>
<polygon points="540.3,206.5 549.9,213.3 554.8,200.6 545.2,194.1" fill="url(#g397)" stroke="#111" stroke-width="0.7" stroke-linejoin="round"/>
<polygon points="549.9,213.3 559.5,220.2 564.4,207.2 554.8,200.6" fill="url(#g398)" stroke="#111" stroke-width="0.7" stroke-linejoin="round"/>
<polygon points="559.5,220.2 569.3,227.3 574.1,214 564.4,207.2" fill="url(#g399)" stroke="#111" stroke-width="0.7" stroke-linejoin="round"/>
<line x1="392.5" y1="248.5" x2="383.4" y2="59.4" stroke="#000" stroke-width="0.8"/>
<line x1="648" y1="215.5" x2="655.5" y2="37.8" stroke="#111" stroke-width="0.8"/>
<line x1="392.5" y1="248.5" x2="568.4" y2="292" stroke="#000" stroke-width="1"/>
<line x1="568.4" y1="292" x2="648" y2="215.5" stroke="#000" stroke-width="1"/>
<circle cx="390.3" cy="203.1" r="1.5" fill="#000"/>
<circle cx="388.9" cy="174.4" r="1.5" fill="#000"/>
<circle cx="387.5" cy="145.6" r="1.5" fill="#000"/>
<circle cx="386.2" cy="116.9" r="1.5" fill="#000"/>
<circle cx="384.8" cy="88.1" r="1.5" fill="#000"/>
<circle cx="383.4" cy="59.4" r="1.5" fill="#000"/>
<circle cx="392.5" cy="248.5" r="1.5" fill="#000"/>
<circle cx="436.5" cy="259.4" r="1.5" fill="#000"/>
<circle cx="480.4" cy="270.2" r="1.5" fill="#000"/>
<circle cx="524.4" cy="281.1" r="1.5" fill="#000"/>
<circle cx="568.4" cy="292" r="1.5" fill="#000"/>
<circle cx="568.4" cy="292" r="1.5" fill="#000"/>
<circle cx="588.3" cy="272.9" r="1.5" fill="#000"/>
<circle cx="608.2" cy="253.8" r="1.5" fill="#000"/>
<circle cx="628.1" cy="234.6" r="1.5" fill="#000"/>
<circle cx="648" cy="215.5" r="1.5" fill="#000"/>
<text x="342.5" y="15.9" class="ser" font-size="17" font-weight="bold">b)</text>
<text transform="translate(348,196.5) rotate(-90)" class="lab" font-size="12" textLength="77" lengthAdjust="spacingAndGlyphs" xml:space="preserve">Removal  (%)</text>
<text x="377.9" y="56.8" text-anchor="end" class="rt">110</text>
<text x="378.8" y="85.1" text-anchor="end" class="rt">100</text>
<text x="379.5" y="113.6" text-anchor="end" class="rt">90</text>
<text x="380.8" y="142.6" text-anchor="end" class="rt">80</text>
<text x="382.1" y="171.4" text-anchor="end" class="rt">70</text>
<text x="383.4" y="200" text-anchor="end" class="rt">60</text>
<text x="385" y="262" text-anchor="end" class="rt">35</text>
<text x="429.4" y="272.2" text-anchor="end" class="rt">30</text>
<text x="473" y="283.4" text-anchor="end" class="rt">25</text>
<text x="517.4" y="294.4" text-anchor="end" class="rt">20</text>
<text x="560.7" y="305.3" text-anchor="end" class="rt">15</text>
<text x="575.2" y="305" class="rt">5</text>
<text x="594.9" y="286.4" class="rt">6</text>
<text x="614.9" y="267" class="rt">7</text>
<text x="634.5" y="248.1" class="rt">8</text>
<text x="654.9" y="228.8" class="rt">9</text>
<text x="658.2" y="278.5" class="lab" font-size="12" textLength="17" lengthAdjust="spacingAndGlyphs">pH</text>
<text x="371.7" y="309.5" class="lab" font-size="12" textLength="144.3" lengthAdjust="spacingAndGlyphs">Adsorbent amount (mg)</text>
</svg>
</body></html>
